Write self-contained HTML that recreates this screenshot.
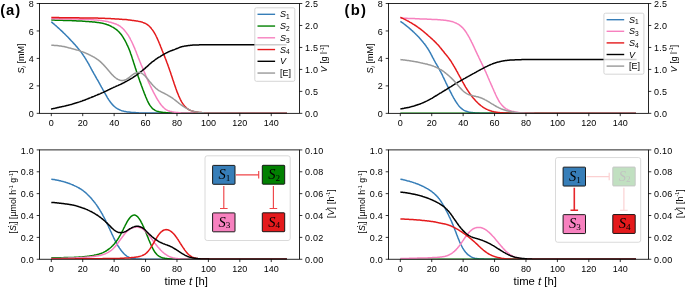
<!DOCTYPE html>
<html><head><meta charset="utf-8"><title>figure</title>
<style>html,body{margin:0;padding:0;background:#fff;}svg{display:block;will-change:transform;opacity:0.999;}</style></head>
<body>
<svg width="685" height="288" viewBox="0 0 685 288" font-family="Liberation Sans, sans-serif" fill="#000">
<rect width="685" height="288" fill="#fff"/>
<clipPath id="ca1"><rect x="39.5" y="3.5" width="260.0" height="109.85"/></clipPath>
<g clip-path="url(#ca1)">
<path d="M51.3,21.8 L52.0,22.4 L52.8,23.1 L53.5,23.7 L54.3,24.3 L55.0,25.0 L55.8,25.6 L56.5,26.3 L57.3,27.0 L58.0,27.7 L58.8,28.3 L59.5,29.0 L60.3,29.7 L61.0,30.4 L61.8,31.1 L62.5,31.8 L63.3,32.6 L64.0,33.3 L64.8,34.0 L65.5,34.8 L66.3,35.5 L67.0,36.3 L67.8,37.0 L68.5,37.8 L69.3,38.6 L70.0,39.4 L70.8,40.2 L71.5,41.0 L72.3,41.8 L73.0,42.6 L73.8,43.4 L74.5,44.2 L75.3,45.1 L76.0,45.9 L76.8,46.8 L77.5,47.7 L78.3,48.6 L79.0,49.5 L79.8,50.4 L80.5,51.4 L81.3,52.4 L82.0,53.4 L82.8,54.5 L83.5,55.6 L84.3,56.7 L85.0,57.9 L85.8,59.1 L86.5,60.3 L87.3,61.6 L88.0,62.9 L88.8,64.2 L89.5,65.6 L90.3,67.0 L91.0,68.4 L91.8,69.8 L92.5,71.2 L93.3,72.5 L94.0,73.9 L94.8,75.2 L95.5,76.5 L96.3,77.8 L97.0,79.1 L97.8,80.4 L98.5,81.7 L99.3,83.1 L100.0,84.4 L100.8,85.8 L101.5,87.1 L102.3,88.5 L103.0,89.9 L103.8,91.2 L104.5,92.6 L105.3,93.9 L106.0,95.2 L106.8,96.5 L107.5,97.8 L108.3,99.0 L109.0,100.1 L109.8,101.2 L110.5,102.3 L111.3,103.2 L112.0,104.1 L112.8,104.9 L113.5,105.7 L114.3,106.4 L115.0,107.0 L115.8,107.6 L116.5,108.1 L117.3,108.6 L118.0,109.0 L118.8,109.4 L119.5,109.8 L120.3,110.1 L121.0,110.4 L121.8,110.7 L122.5,110.9 L123.3,111.1 L124.0,111.3 L124.8,111.5 L125.5,111.6 L126.3,111.7 L127.0,111.9 L127.8,112.0 L128.6,112.1 L129.3,112.1 L130.1,112.2 L130.8,112.3 L131.6,112.4 L132.3,112.4 L133.1,112.5 L133.8,112.5 L134.6,112.6 L135.3,112.6 L136.1,112.7 L136.8,112.7 L137.6,112.8 L138.3,112.8 L139.1,112.9 L139.8,112.9 L140.6,112.9 L141.3,113.0 L142.1,113.0 L142.8,113.0 L143.6,113.1 L144.3,113.1 L286.9,113.3" stroke="#377eb8" stroke-width="1.5" fill="none" stroke-linejoin="round"/>
<path d="M51.3,20.1 L52.0,20.1 L52.8,20.1 L53.5,20.1 L54.3,20.1 L55.0,20.2 L55.8,20.2 L56.5,20.2 L57.3,20.2 L58.0,20.2 L58.8,20.2 L59.5,20.2 L60.3,20.3 L61.0,20.3 L61.8,20.3 L62.5,20.3 L63.3,20.4 L64.0,20.4 L64.8,20.4 L65.5,20.4 L66.3,20.5 L67.0,20.5 L67.8,20.5 L68.5,20.5 L69.3,20.6 L70.0,20.6 L70.8,20.6 L71.5,20.6 L72.3,20.7 L73.0,20.7 L73.8,20.7 L74.5,20.8 L75.3,20.8 L76.0,20.8 L76.8,20.9 L77.5,20.9 L78.3,20.9 L79.0,21.0 L79.8,21.0 L80.5,21.1 L81.3,21.1 L82.0,21.1 L82.8,21.2 L83.5,21.2 L84.3,21.3 L85.0,21.3 L85.8,21.4 L86.5,21.4 L87.3,21.5 L88.0,21.5 L88.8,21.6 L89.5,21.7 L90.3,21.7 L91.0,21.8 L91.8,21.8 L92.5,21.9 L93.3,22.0 L94.0,22.0 L94.8,22.1 L95.5,22.2 L96.3,22.3 L97.0,22.4 L97.8,22.5 L98.5,22.6 L99.3,22.7 L100.0,22.8 L100.8,22.9 L101.5,23.1 L102.3,23.2 L103.0,23.4 L103.8,23.6 L104.5,23.8 L105.3,24.0 L106.0,24.2 L106.8,24.5 L107.5,24.7 L108.3,25.0 L109.0,25.3 L109.8,25.6 L110.5,26.0 L111.3,26.4 L112.0,26.8 L112.8,27.2 L113.5,27.6 L114.3,28.1 L115.0,28.6 L115.8,29.1 L116.5,29.7 L117.3,30.3 L118.0,31.0 L118.8,31.7 L119.5,32.5 L120.3,33.4 L121.0,34.3 L121.8,35.3 L122.5,36.4 L123.3,37.6 L124.0,38.8 L124.8,40.2 L125.5,41.5 L126.3,43.0 L127.0,44.6 L127.8,46.2 L128.6,48.0 L129.3,49.8 L130.1,51.8 L130.8,53.9 L131.6,56.1 L132.3,58.4 L133.1,60.7 L133.8,63.0 L134.6,65.4 L135.3,67.8 L136.1,70.1 L136.8,72.4 L137.6,74.6 L138.3,76.8 L139.1,79.0 L139.8,81.1 L140.6,83.1 L141.3,85.2 L142.1,87.2 L142.8,89.2 L143.6,91.2 L144.3,93.2 L145.1,95.1 L145.8,97.0 L146.6,98.8 L147.3,100.5 L148.1,102.1 L148.8,103.5 L149.6,104.8 L150.3,105.9 L151.1,106.9 L151.8,107.8 L152.6,108.6 L153.3,109.2 L154.1,109.7 L154.8,110.2 L155.6,110.6 L156.3,110.9 L157.1,111.2 L157.8,111.4 L158.6,111.6 L159.3,111.8 L160.1,111.9 L160.8,112.0 L161.6,112.2 L162.3,112.3 L163.1,112.4 L163.8,112.5 L164.6,112.6 L165.3,112.6 L166.1,112.7 L166.8,112.8 L167.6,112.8 L168.3,112.9 L169.1,112.9 L169.8,112.9 L170.6,113.0 L171.3,113.0 L172.1,113.0 L172.8,113.1 L173.6,113.1 L174.3,113.1 L286.9,113.3" stroke="#008000" stroke-width="1.5" fill="none" stroke-linejoin="round"/>
<path d="M51.3,18.8 L52.0,18.8 L52.8,18.8 L53.5,18.8 L54.3,18.8 L55.0,18.8 L55.8,18.8 L56.5,18.8 L57.3,18.8 L58.0,18.8 L58.8,18.8 L59.5,18.8 L60.3,18.9 L61.0,18.9 L61.8,18.9 L62.5,18.9 L63.3,18.9 L64.0,18.9 L64.8,18.9 L65.5,18.9 L66.3,18.9 L67.0,19.0 L67.8,19.0 L68.5,19.0 L69.3,19.0 L70.0,19.0 L70.8,19.0 L71.5,19.0 L72.3,19.0 L73.0,19.1 L73.8,19.1 L74.5,19.1 L75.3,19.1 L76.0,19.1 L76.8,19.1 L77.5,19.1 L78.3,19.2 L79.0,19.2 L79.8,19.2 L80.5,19.2 L81.3,19.3 L82.0,19.3 L82.8,19.3 L83.5,19.3 L84.3,19.4 L85.0,19.4 L85.8,19.4 L86.5,19.4 L87.3,19.5 L88.0,19.5 L88.8,19.5 L89.5,19.6 L90.3,19.6 L91.0,19.7 L91.8,19.7 L92.5,19.7 L93.3,19.8 L94.0,19.9 L94.8,19.9 L95.5,20.0 L96.3,20.0 L97.0,20.1 L97.8,20.2 L98.5,20.2 L99.3,20.3 L100.0,20.4 L100.8,20.5 L101.5,20.6 L102.3,20.7 L103.0,20.8 L103.8,20.9 L104.5,21.1 L105.3,21.2 L106.0,21.3 L106.8,21.5 L107.5,21.6 L108.3,21.8 L109.0,22.0 L109.8,22.2 L110.5,22.3 L111.3,22.5 L112.0,22.8 L112.8,23.0 L113.5,23.2 L114.3,23.5 L115.0,23.7 L115.8,24.0 L116.5,24.3 L117.3,24.7 L118.0,25.0 L118.8,25.5 L119.5,25.9 L120.3,26.4 L121.0,27.0 L121.8,27.6 L122.5,28.3 L123.3,29.0 L124.0,29.8 L124.8,30.7 L125.5,31.6 L126.3,32.6 L127.0,33.6 L127.8,34.7 L128.6,35.9 L129.3,37.2 L130.1,38.5 L130.8,40.0 L131.6,41.5 L132.3,43.0 L133.1,44.7 L133.8,46.4 L134.6,48.1 L135.3,50.0 L136.1,51.8 L136.8,53.7 L137.6,55.7 L138.3,57.6 L139.1,59.5 L139.8,61.3 L140.6,63.2 L141.3,65.0 L142.1,66.8 L142.8,68.5 L143.6,70.3 L144.3,72.1 L145.1,73.9 L145.8,75.6 L146.6,77.4 L147.3,79.2 L148.1,80.9 L148.8,82.6 L149.6,84.2 L150.3,85.8 L151.1,87.4 L151.8,88.9 L152.6,90.4 L153.3,91.9 L154.1,93.3 L154.8,94.7 L155.6,96.1 L156.3,97.5 L157.1,98.8 L157.8,100.0 L158.6,101.2 L159.3,102.4 L160.1,103.5 L160.8,104.5 L161.6,105.4 L162.3,106.3 L163.1,107.1 L163.8,107.8 L164.6,108.5 L165.3,109.1 L166.1,109.6 L166.8,110.0 L167.6,110.4 L168.3,110.7 L169.1,111.0 L169.8,111.3 L170.6,111.5 L171.3,111.6 L172.1,111.8 L172.8,111.9 L173.6,112.1 L174.3,112.2 L175.1,112.3 L175.8,112.4 L176.6,112.5 L177.3,112.6 L178.1,112.6 L178.8,112.7 L179.6,112.8 L180.3,112.8 L181.1,112.9 L181.8,112.9 L182.6,112.9 L183.3,113.0 L184.1,113.0 L184.8,113.0 L185.6,113.1 L186.3,113.1 L187.1,113.1 L187.8,113.1 L286.9,113.3" stroke="#f781bf" stroke-width="1.5" fill="none" stroke-linejoin="round"/>
<path d="M51.3,17.6 L52.0,17.6 L52.8,17.6 L53.5,17.6 L54.3,17.6 L55.0,17.6 L55.8,17.6 L56.5,17.6 L57.3,17.6 L58.0,17.6 L58.8,17.6 L59.5,17.7 L60.3,17.7 L61.0,17.7 L61.8,17.7 L62.5,17.7 L63.3,17.7 L64.0,17.7 L64.8,17.7 L65.5,17.7 L66.3,17.7 L67.0,17.7 L67.8,17.7 L68.5,17.7 L69.3,17.7 L70.0,17.7 L70.8,17.8 L71.5,17.8 L72.3,17.8 L73.0,17.8 L73.8,17.8 L74.5,17.8 L75.3,17.8 L76.0,17.8 L76.8,17.8 L77.5,17.8 L78.3,17.8 L79.0,17.8 L79.8,17.9 L80.5,17.9 L81.3,17.9 L82.0,17.9 L82.8,17.9 L83.5,17.9 L84.3,17.9 L85.0,17.9 L85.8,17.9 L86.5,17.9 L87.3,17.9 L88.0,18.0 L88.8,18.0 L89.5,18.0 L90.3,18.0 L91.0,18.0 L91.8,18.0 L92.5,18.0 L93.3,18.0 L94.0,18.1 L94.8,18.1 L95.5,18.1 L96.3,18.1 L97.0,18.1 L97.8,18.1 L98.5,18.2 L99.3,18.2 L100.0,18.2 L100.8,18.2 L101.5,18.2 L102.3,18.3 L103.0,18.3 L103.8,18.3 L104.5,18.3 L105.3,18.4 L106.0,18.4 L106.8,18.4 L107.5,18.5 L108.3,18.5 L109.0,18.6 L109.8,18.6 L110.5,18.6 L111.3,18.7 L112.0,18.7 L112.8,18.8 L113.5,18.8 L114.3,18.8 L115.0,18.9 L115.8,18.9 L116.5,19.0 L117.3,19.0 L118.0,19.1 L118.8,19.1 L119.5,19.2 L120.3,19.2 L121.0,19.3 L121.8,19.3 L122.5,19.4 L123.3,19.4 L124.0,19.5 L124.8,19.5 L125.5,19.6 L126.3,19.6 L127.0,19.7 L127.8,19.8 L128.6,19.9 L129.3,20.0 L130.1,20.1 L130.8,20.2 L131.6,20.3 L132.3,20.4 L133.1,20.5 L133.8,20.6 L134.6,20.7 L135.3,20.8 L136.1,20.9 L136.8,21.0 L137.6,21.1 L138.3,21.3 L139.1,21.4 L139.8,21.6 L140.6,21.7 L141.3,21.9 L142.1,22.1 L142.8,22.4 L143.6,22.7 L144.3,23.0 L145.1,23.3 L145.8,23.7 L146.6,24.1 L147.3,24.6 L148.1,25.2 L148.8,25.8 L149.6,26.5 L150.3,27.3 L151.1,28.1 L151.8,29.1 L152.6,30.1 L153.3,31.2 L154.1,32.4 L154.8,33.6 L155.6,35.0 L156.3,36.5 L157.1,38.1 L157.8,39.7 L158.6,41.5 L159.3,43.3 L160.1,45.1 L160.8,47.0 L161.6,48.9 L162.3,50.8 L163.1,52.7 L163.8,54.5 L164.6,56.4 L165.3,58.3 L166.1,60.2 L166.8,62.2 L167.6,64.2 L168.3,66.3 L169.1,68.4 L169.8,70.5 L170.6,72.7 L171.3,74.9 L172.1,77.2 L172.8,79.4 L173.6,81.7 L174.3,83.9 L175.1,86.2 L175.8,88.3 L176.6,90.4 L177.3,92.4 L178.1,94.3 L178.8,96.1 L179.6,97.8 L180.3,99.3 L181.1,100.8 L181.8,102.1 L182.6,103.3 L183.3,104.4 L184.1,105.4 L184.8,106.3 L185.6,107.1 L186.3,107.8 L187.1,108.5 L187.8,109.0 L188.6,109.5 L189.3,109.9 L190.1,110.3 L190.8,110.6 L191.6,110.9 L192.3,111.1 L193.1,111.3 L193.8,111.5 L194.6,111.7 L195.3,111.8 L196.1,112.0 L196.8,112.1 L197.6,112.2 L198.3,112.3 L199.1,112.4 L199.8,112.4 L200.6,112.5 L201.3,112.6 L202.1,112.7 L202.8,112.7 L203.6,112.8 L204.3,112.9 L205.1,112.9 L205.8,113.0 L206.6,113.0 L207.3,113.0 L208.1,113.1 L208.8,113.1 L209.6,113.1 L286.9,113.3" stroke="#e41a1c" stroke-width="1.5" fill="none" stroke-linejoin="round"/>
<path d="M51.0,109.0 L51.8,108.9 L52.5,108.7 L53.2,108.6 L54.0,108.4 L54.8,108.3 L55.5,108.1 L56.2,108.0 L57.0,107.8 L57.8,107.6 L58.5,107.5 L59.2,107.3 L60.0,107.1 L60.8,107.0 L61.5,106.8 L62.2,106.6 L63.0,106.5 L63.8,106.3 L64.5,106.1 L65.2,105.9 L66.0,105.7 L66.8,105.5 L67.5,105.4 L68.2,105.2 L69.0,105.0 L69.8,104.8 L70.5,104.6 L71.2,104.4 L72.0,104.2 L72.8,103.9 L73.5,103.7 L74.2,103.5 L75.0,103.3 L75.8,103.1 L76.5,102.8 L77.2,102.6 L78.0,102.4 L78.8,102.1 L79.5,101.9 L80.2,101.6 L81.0,101.4 L81.8,101.1 L82.5,100.8 L83.2,100.5 L84.0,100.3 L84.8,100.0 L85.5,99.7 L86.2,99.4 L87.0,99.1 L87.8,98.8 L88.5,98.5 L89.2,98.2 L90.0,97.9 L90.8,97.6 L91.5,97.3 L92.2,97.0 L93.0,96.7 L93.8,96.4 L94.5,96.1 L95.2,95.8 L96.0,95.4 L96.8,95.1 L97.5,94.8 L98.2,94.5 L99.0,94.2 L99.8,93.9 L100.5,93.6 L101.2,93.2 L102.0,92.9 L102.8,92.6 L103.5,92.2 L104.2,91.9 L105.0,91.5 L105.8,91.2 L106.5,90.8 L107.2,90.5 L108.0,90.1 L108.8,89.7 L109.5,89.4 L110.2,89.0 L111.0,88.6 L111.8,88.3 L112.5,87.9 L113.2,87.6 L114.0,87.2 L114.8,86.9 L115.5,86.6 L116.2,86.2 L117.0,85.9 L117.8,85.6 L118.5,85.3 L119.2,84.9 L120.0,84.6 L120.8,84.3 L121.5,83.9 L122.2,83.5 L123.0,83.1 L123.8,82.8 L124.5,82.4 L125.2,81.9 L126.0,81.5 L126.8,81.1 L127.5,80.7 L128.2,80.3 L129.0,79.9 L129.8,79.4 L130.5,79.0 L131.2,78.5 L132.0,78.1 L132.8,77.6 L133.5,77.1 L134.2,76.6 L135.0,76.1 L135.8,75.6 L136.5,75.0 L137.2,74.5 L138.0,73.9 L138.8,73.3 L139.5,72.8 L140.2,72.2 L141.0,71.6 L141.8,71.0 L142.5,70.4 L143.2,69.8 L144.0,69.2 L144.8,68.6 L145.5,67.9 L146.2,67.2 L147.0,66.6 L147.8,65.9 L148.5,65.2 L149.2,64.5 L150.0,63.8 L150.8,63.2 L151.5,62.5 L152.2,61.9 L153.0,61.4 L153.8,60.8 L154.5,60.3 L155.2,59.7 L156.0,59.2 L156.8,58.7 L157.5,58.2 L158.2,57.7 L159.0,57.2 L159.8,56.8 L160.5,56.3 L161.2,55.8 L162.0,55.4 L162.8,54.9 L163.5,54.5 L164.2,54.1 L165.0,53.6 L165.8,53.2 L166.5,52.8 L167.2,52.5 L168.0,52.1 L168.8,51.7 L169.5,51.4 L170.2,51.1 L171.0,50.8 L171.8,50.5 L172.5,50.2 L173.2,49.9 L174.0,49.7 L174.8,49.4 L175.5,49.1 L176.2,48.8 L177.0,48.5 L177.8,48.2 L178.5,47.9 L179.2,47.6 L180.0,47.3 L180.8,47.1 L181.5,46.8 L182.2,46.6 L183.0,46.5 L183.8,46.3 L184.5,46.1 L185.2,46.0 L186.0,45.9 L186.8,45.8 L187.5,45.7 L188.2,45.6 L189.0,45.5 L189.8,45.4 L190.5,45.3 L191.2,45.2 L192.0,45.2 L192.8,45.1 L193.5,45.1 L194.2,45.0 L195.0,45.0 L195.8,45.0 L196.5,44.9 L197.2,44.9 L198.0,44.9 L198.8,44.9 L199.5,44.8 L200.2,44.8 L201.0,44.8 L201.8,44.8 L202.5,44.8 L203.2,44.8 L204.0,44.8 L204.8,44.7 L205.5,44.7 L206.2,44.7 L207.0,44.7 L207.8,44.7 L208.5,44.7 L209.2,44.7 L210.0,44.7 L210.8,44.7 L211.5,44.7 L212.2,44.7 L213.0,44.7 L213.8,44.7 L214.5,44.7 L215.2,44.7 L216.0,44.7 L216.8,44.7 L217.5,44.7 L218.2,44.7 L219.0,44.7 L219.8,44.7 L220.5,44.7 L221.2,44.7 L222.0,44.7 L222.8,44.7 L223.5,44.7 L224.2,44.7 L225.0,44.7 L225.8,44.7 L226.5,44.7 L227.2,44.7 L228.0,44.7 L228.8,44.7 L229.5,44.7 L230.2,44.7 L231.0,44.7 L231.8,44.7 L232.5,44.7 L233.2,44.7 L234.0,44.7 L234.8,44.7 L235.5,44.7 L236.2,44.7 L237.0,44.7 L237.8,44.7 L238.5,44.7 L239.2,44.7 L240.0,44.7 L240.8,44.7 L241.5,44.7 L242.2,44.7 L243.0,44.7 L243.8,44.7 L244.5,44.7 L245.2,44.7 L246.0,44.7 L246.8,44.7 L247.5,44.7 L248.2,44.7 L249.0,44.7 L249.8,44.7 L250.5,44.7 L251.2,44.7 L252.0,44.7 L252.8,44.7 L253.5,44.7 L254.2,44.7 L255.0,44.7 L255.8,44.7 L256.5,44.7 L257.2,44.7 L258.0,44.7 L258.8,44.7 L259.5,44.7 L260.2,44.7 L261.0,44.7 L261.8,44.7 L262.5,44.7 L263.2,44.7 L264.0,44.7 L264.8,44.7 L265.5,44.7 L266.2,44.7 L267.0,44.7 L267.8,44.7 L268.5,44.7 L269.2,44.7 L270.0,44.7 L270.8,44.7 L271.5,44.7 L272.2,44.7 L273.0,44.7 L273.8,44.7 L274.5,44.7 L275.2,44.7 L276.0,44.7 L276.8,44.7 L277.5,44.7 L278.2,44.7 L279.0,44.7 L279.8,44.7 L280.5,44.7 L281.2,44.7 L282.0,44.7 L282.8,44.7 L283.5,44.7 L284.2,44.7 L285.0,44.7 L285.8,44.7 L286.5,44.7" stroke="#000000" stroke-width="1.5" fill="none" stroke-linejoin="round"/>
<path d="M51.3,45.2 L52.0,45.2 L52.8,45.3 L53.5,45.3 L54.3,45.4 L55.0,45.4 L55.8,45.5 L56.5,45.6 L57.3,45.6 L58.0,45.7 L58.8,45.8 L59.5,45.9 L60.3,46.0 L61.0,46.1 L61.8,46.2 L62.5,46.4 L63.3,46.5 L64.0,46.6 L64.8,46.8 L65.5,47.0 L66.3,47.1 L67.0,47.3 L67.8,47.5 L68.5,47.7 L69.3,47.9 L70.0,48.1 L70.8,48.3 L71.5,48.5 L72.3,48.7 L73.0,48.9 L73.8,49.1 L74.5,49.3 L75.3,49.5 L76.0,49.7 L76.8,49.9 L77.5,50.1 L78.3,50.4 L79.0,50.6 L79.8,50.8 L80.5,51.1 L81.3,51.4 L82.0,51.6 L82.8,51.9 L83.5,52.2 L84.3,52.5 L85.0,52.8 L85.8,53.1 L86.5,53.5 L87.3,53.8 L88.0,54.1 L88.8,54.5 L89.5,54.9 L90.3,55.2 L91.0,55.6 L91.8,56.0 L92.5,56.4 L93.3,56.8 L94.0,57.2 L94.8,57.7 L95.5,58.1 L96.3,58.6 L97.0,59.1 L97.8,59.6 L98.5,60.2 L99.3,60.8 L100.0,61.4 L100.8,62.1 L101.5,62.8 L102.3,63.6 L103.0,64.3 L103.8,65.1 L104.5,65.9 L105.3,66.7 L106.0,67.6 L106.8,68.5 L107.5,69.3 L108.3,70.2 L109.0,71.1 L109.8,72.0 L110.5,72.9 L111.3,73.7 L112.0,74.6 L112.8,75.3 L113.5,76.1 L114.3,76.8 L115.0,77.4 L115.8,78.0 L116.5,78.5 L117.3,79.0 L118.0,79.4 L118.8,79.7 L119.5,80.0 L120.3,80.3 L121.0,80.4 L121.8,80.5 L122.5,80.5 L123.3,80.5 L124.0,80.3 L124.8,80.1 L125.5,79.8 L126.3,79.4 L127.0,79.0 L127.8,78.5 L128.6,78.0 L129.3,77.4 L130.1,76.7 L130.8,76.1 L131.6,75.5 L132.3,74.9 L133.1,74.4 L133.8,73.9 L134.6,73.5 L135.3,73.2 L136.1,72.9 L136.8,72.7 L137.6,72.5 L138.3,72.4 L139.1,72.5 L139.8,72.6 L140.6,72.8 L141.3,73.1 L142.1,73.5 L142.8,74.0 L143.6,74.6 L144.3,75.3 L145.1,76.0 L145.8,76.9 L146.6,77.7 L147.3,78.6 L148.1,79.5 L148.8,80.5 L149.6,81.4 L150.3,82.3 L151.1,83.1 L151.8,84.0 L152.6,84.9 L153.3,85.7 L154.1,86.5 L154.8,87.2 L155.6,88.0 L156.3,88.6 L157.1,89.2 L157.8,89.8 L158.6,90.3 L159.3,90.8 L160.1,91.2 L160.8,91.6 L161.6,92.0 L162.3,92.4 L163.1,92.8 L163.8,93.1 L164.6,93.5 L165.3,93.9 L166.1,94.3 L166.8,94.7 L167.6,95.1 L168.3,95.6 L169.1,96.0 L169.8,96.5 L170.6,96.9 L171.3,97.4 L172.1,97.9 L172.8,98.4 L173.6,99.0 L174.3,99.5 L175.1,100.1 L175.8,100.7 L176.6,101.3 L177.3,101.9 L178.1,102.5 L178.8,103.1 L179.6,103.7 L180.3,104.3 L181.1,104.8 L181.8,105.4 L182.6,105.9 L183.3,106.4 L184.1,106.9 L184.8,107.3 L185.6,107.8 L186.3,108.2 L187.1,108.6 L187.8,109.0 L188.6,109.4 L189.3,109.8 L190.1,110.1 L190.8,110.4 L191.6,110.7 L192.3,110.9 L193.1,111.2 L193.8,111.4 L194.6,111.5 L195.3,111.7 L196.1,111.9 L196.8,112.0 L197.6,112.1 L198.3,112.2 L199.1,112.3 L199.8,112.4 L200.6,112.5 L201.3,112.6 L202.1,112.7 L202.8,112.8 L203.6,112.8 L204.3,112.9 L205.1,112.9 L205.8,112.9 L206.6,113.0 L207.3,113.0 L208.1,113.0 L208.8,113.0 L209.6,113.0 L210.3,113.1 L211.1,113.1 L211.8,113.1 L212.6,113.1 L213.3,113.1 L214.1,113.1 L214.8,113.1 L286.9,113.3" stroke="#999999" stroke-width="1.5" fill="none" stroke-linejoin="round"/>
</g>
<rect x="39.5" y="3.5" width="260.0" height="109.85" fill="none" stroke="#000" stroke-width="0.85"/>
<line x1="51.30" y1="113.35" x2="51.30" y2="116.14999999999999" stroke="#000" stroke-width="0.8"/>
<text x="51.30" y="125.94999999999999" text-anchor="middle" font-size="9.0">0</text>
<line x1="82.72" y1="113.35" x2="82.72" y2="116.14999999999999" stroke="#000" stroke-width="0.8"/>
<text x="82.72" y="125.94999999999999" text-anchor="middle" font-size="9.0">20</text>
<line x1="114.14" y1="113.35" x2="114.14" y2="116.14999999999999" stroke="#000" stroke-width="0.8"/>
<text x="114.14" y="125.94999999999999" text-anchor="middle" font-size="9.0">40</text>
<line x1="145.56" y1="113.35" x2="145.56" y2="116.14999999999999" stroke="#000" stroke-width="0.8"/>
<text x="145.56" y="125.94999999999999" text-anchor="middle" font-size="9.0">60</text>
<line x1="176.98" y1="113.35" x2="176.98" y2="116.14999999999999" stroke="#000" stroke-width="0.8"/>
<text x="176.98" y="125.94999999999999" text-anchor="middle" font-size="9.0">80</text>
<line x1="208.40" y1="113.35" x2="208.40" y2="116.14999999999999" stroke="#000" stroke-width="0.8"/>
<text x="208.40" y="125.94999999999999" text-anchor="middle" font-size="9.0">100</text>
<line x1="239.82" y1="113.35" x2="239.82" y2="116.14999999999999" stroke="#000" stroke-width="0.8"/>
<text x="239.82" y="125.94999999999999" text-anchor="middle" font-size="9.0">120</text>
<line x1="271.24" y1="113.35" x2="271.24" y2="116.14999999999999" stroke="#000" stroke-width="0.8"/>
<text x="271.24" y="125.94999999999999" text-anchor="middle" font-size="9.0">140</text>
<line x1="36.7" y1="113.35" x2="39.5" y2="113.35" stroke="#000" stroke-width="0.8"/>
<text x="33.9" y="116.95" text-anchor="end" font-size="9.0" letter-spacing="0.25">0</text>
<line x1="36.7" y1="85.89" x2="39.5" y2="85.89" stroke="#000" stroke-width="0.8"/>
<text x="33.9" y="89.49" text-anchor="end" font-size="9.0" letter-spacing="0.25">2</text>
<line x1="36.7" y1="58.42" x2="39.5" y2="58.42" stroke="#000" stroke-width="0.8"/>
<text x="33.9" y="62.02" text-anchor="end" font-size="9.0" letter-spacing="0.25">4</text>
<line x1="36.7" y1="30.96" x2="39.5" y2="30.96" stroke="#000" stroke-width="0.8"/>
<text x="33.9" y="34.56" text-anchor="end" font-size="9.0" letter-spacing="0.25">6</text>
<line x1="36.7" y1="3.50" x2="39.5" y2="3.50" stroke="#000" stroke-width="0.8"/>
<text x="33.9" y="7.10" text-anchor="end" font-size="9.0" letter-spacing="0.25">8</text>
<line x1="299.5" y1="113.35" x2="302.3" y2="113.35" stroke="#000" stroke-width="0.8"/>
<text x="304.9" y="117.05" text-anchor="start" font-size="9.0" letter-spacing="0.25">0.0</text>
<line x1="299.5" y1="91.38" x2="302.3" y2="91.38" stroke="#000" stroke-width="0.8"/>
<text x="304.9" y="95.08" text-anchor="start" font-size="9.0" letter-spacing="0.25">0.5</text>
<line x1="299.5" y1="69.41" x2="302.3" y2="69.41" stroke="#000" stroke-width="0.8"/>
<text x="304.9" y="73.11" text-anchor="start" font-size="9.0" letter-spacing="0.25">1.0</text>
<line x1="299.5" y1="47.44" x2="302.3" y2="47.44" stroke="#000" stroke-width="0.8"/>
<text x="304.9" y="51.14" text-anchor="start" font-size="9.0" letter-spacing="0.25">1.5</text>
<line x1="299.5" y1="25.47" x2="302.3" y2="25.47" stroke="#000" stroke-width="0.8"/>
<text x="304.9" y="29.17" text-anchor="start" font-size="9.0" letter-spacing="0.25">2.0</text>
<line x1="299.5" y1="3.50" x2="302.3" y2="3.50" stroke="#000" stroke-width="0.8"/>
<text x="304.9" y="7.20" text-anchor="start" font-size="9.0" letter-spacing="0.25">2.5</text>
<clipPath id="ca2"><rect x="39.5" y="149.9" width="260.0" height="109.35"/></clipPath>
<g clip-path="url(#ca2)">
<path d="M51.3,179.2 L52.0,179.3 L52.8,179.4 L53.5,179.5 L54.3,179.6 L55.0,179.7 L55.8,179.9 L56.5,180.0 L57.3,180.2 L58.0,180.3 L58.8,180.5 L59.5,180.7 L60.3,180.8 L61.0,181.0 L61.8,181.2 L62.5,181.4 L63.3,181.6 L64.0,181.8 L64.8,182.0 L65.5,182.2 L66.3,182.5 L67.0,182.7 L67.8,183.0 L68.5,183.2 L69.3,183.5 L70.0,183.8 L70.8,184.1 L71.5,184.4 L72.3,184.7 L73.0,185.0 L73.8,185.4 L74.5,185.7 L75.3,186.1 L76.0,186.4 L76.8,186.8 L77.5,187.2 L78.3,187.6 L79.0,188.0 L79.8,188.5 L80.5,188.9 L81.3,189.4 L82.0,189.9 L82.8,190.4 L83.5,191.0 L84.3,191.6 L85.0,192.2 L85.8,192.8 L86.5,193.5 L87.3,194.2 L88.0,195.0 L88.8,195.7 L89.5,196.5 L90.3,197.3 L91.0,198.1 L91.8,199.0 L92.5,199.9 L93.3,200.8 L94.0,201.7 L94.8,202.6 L95.5,203.6 L96.3,204.6 L97.0,205.7 L97.8,206.8 L98.5,208.0 L99.3,209.1 L100.0,210.4 L100.8,211.6 L101.5,212.9 L102.3,214.2 L103.0,215.6 L103.8,217.0 L104.5,218.4 L105.3,219.8 L106.0,221.3 L106.8,222.8 L107.5,224.4 L108.3,226.0 L109.0,227.6 L109.8,229.2 L110.5,230.9 L111.3,232.5 L112.0,234.1 L112.8,235.8 L113.5,237.3 L114.3,238.9 L115.0,240.3 L115.8,241.8 L116.5,243.2 L117.3,244.5 L118.0,245.8 L118.8,247.0 L119.5,248.1 L120.3,249.2 L121.0,250.3 L121.8,251.2 L122.5,252.1 L123.3,253.0 L124.0,253.8 L124.8,254.5 L125.5,255.1 L126.3,255.7 L127.0,256.3 L127.8,256.7 L128.6,257.1 L129.3,257.5 L130.1,257.8 L130.8,258.0 L131.6,258.3 L132.3,258.4 L133.1,258.6 L133.8,258.7 L134.6,258.8 L135.3,258.8 L136.1,258.9 L136.8,258.9 L137.6,259.0 L138.3,259.0 L139.1,259.1 L139.8,259.1 L140.6,259.1 L141.3,259.1 L142.1,259.2 L142.8,259.2 L143.6,259.2 L144.3,259.2 L286.9,259.2" stroke="#377eb8" stroke-width="1.5" fill="none" stroke-linejoin="round"/>
<path d="M51.3,257.8 L52.0,257.8 L52.8,257.8 L53.5,257.8 L54.3,257.8 L55.0,257.8 L55.8,257.8 L56.5,257.8 L57.3,257.8 L58.0,257.8 L58.8,257.7 L59.5,257.7 L60.3,257.7 L61.0,257.7 L61.8,257.7 L62.5,257.7 L63.3,257.7 L64.0,257.6 L64.8,257.6 L65.5,257.6 L66.3,257.6 L67.0,257.6 L67.8,257.5 L68.5,257.5 L69.3,257.5 L70.0,257.5 L70.8,257.5 L71.5,257.4 L72.3,257.4 L73.0,257.4 L73.8,257.4 L74.5,257.3 L75.3,257.3 L76.0,257.3 L76.8,257.2 L77.5,257.2 L78.3,257.2 L79.0,257.1 L79.8,257.1 L80.5,257.0 L81.3,257.0 L82.0,256.9 L82.8,256.8 L83.5,256.8 L84.3,256.7 L85.0,256.6 L85.8,256.5 L86.5,256.4 L87.3,256.3 L88.0,256.2 L88.8,256.2 L89.5,256.0 L90.3,255.9 L91.0,255.8 L91.8,255.7 L92.5,255.6 L93.3,255.4 L94.0,255.3 L94.8,255.1 L95.5,255.0 L96.3,254.8 L97.0,254.6 L97.8,254.4 L98.5,254.2 L99.3,254.0 L100.0,253.7 L100.8,253.5 L101.5,253.2 L102.3,252.9 L103.0,252.6 L103.8,252.2 L104.5,251.8 L105.3,251.4 L106.0,251.0 L106.8,250.5 L107.5,250.0 L108.3,249.5 L109.0,248.9 L109.8,248.3 L110.5,247.7 L111.3,247.0 L112.0,246.3 L112.8,245.6 L113.5,244.8 L114.3,243.9 L115.0,243.0 L115.8,242.1 L116.5,241.0 L117.3,240.0 L118.0,238.9 L118.8,237.7 L119.5,236.4 L120.3,235.1 L121.0,233.7 L121.8,232.3 L122.5,230.8 L123.3,229.3 L124.0,227.8 L124.8,226.3 L125.5,224.8 L126.3,223.4 L127.0,222.0 L127.8,220.7 L128.6,219.5 L129.3,218.5 L130.1,217.5 L130.8,216.7 L131.6,216.1 L132.3,215.6 L133.1,215.3 L133.8,215.1 L134.6,215.1 L135.3,215.2 L136.1,215.6 L136.8,216.1 L137.6,216.8 L138.3,217.6 L139.1,218.6 L139.8,219.7 L140.6,220.9 L141.3,222.3 L142.1,223.8 L142.8,225.3 L143.6,226.9 L144.3,228.7 L145.1,230.4 L145.8,232.2 L146.6,234.1 L147.3,235.9 L148.1,237.8 L148.8,239.7 L149.6,241.5 L150.3,243.3 L151.1,245.0 L151.8,246.6 L152.6,248.1 L153.3,249.5 L154.1,250.8 L154.8,252.0 L155.6,253.0 L156.3,253.9 L157.1,254.7 L157.8,255.3 L158.6,255.9 L159.3,256.4 L160.1,256.8 L160.8,257.1 L161.6,257.4 L162.3,257.7 L163.1,257.9 L163.8,258.1 L164.6,258.2 L165.3,258.4 L166.1,258.5 L166.8,258.6 L167.6,258.7 L168.3,258.8 L169.1,258.8 L169.8,258.9 L170.6,258.9 L171.3,259.0 L172.1,259.0 L172.8,259.0 L173.6,259.1 L174.3,259.1 L175.1,259.1 L175.8,259.1 L176.6,259.2 L177.3,259.2 L178.1,259.2 L178.8,259.2 L179.6,259.2 L286.9,259.2" stroke="#008000" stroke-width="1.5" fill="none" stroke-linejoin="round"/>
<path d="M51.3,258.5 L52.0,258.5 L52.8,258.5 L53.5,258.5 L54.3,258.5 L55.0,258.5 L55.8,258.5 L56.5,258.5 L57.3,258.4 L58.0,258.4 L58.8,258.4 L59.5,258.4 L60.3,258.4 L61.0,258.4 L61.8,258.3 L62.5,258.3 L63.3,258.3 L64.0,258.3 L64.8,258.3 L65.5,258.2 L66.3,258.2 L67.0,258.2 L67.8,258.2 L68.5,258.1 L69.3,258.1 L70.0,258.1 L70.8,258.1 L71.5,258.0 L72.3,258.0 L73.0,258.0 L73.8,257.9 L74.5,257.9 L75.3,257.9 L76.0,257.9 L76.8,257.8 L77.5,257.8 L78.3,257.7 L79.0,257.7 L79.8,257.7 L80.5,257.6 L81.3,257.6 L82.0,257.5 L82.8,257.5 L83.5,257.4 L84.3,257.4 L85.0,257.3 L85.8,257.2 L86.5,257.2 L87.3,257.1 L88.0,257.1 L88.8,257.0 L89.5,256.9 L90.3,256.8 L91.0,256.8 L91.8,256.7 L92.5,256.6 L93.3,256.5 L94.0,256.4 L94.8,256.3 L95.5,256.2 L96.3,256.1 L97.0,255.9 L97.8,255.8 L98.5,255.7 L99.3,255.5 L100.0,255.4 L100.8,255.2 L101.5,255.0 L102.3,254.8 L103.0,254.6 L103.8,254.3 L104.5,254.1 L105.3,253.8 L106.0,253.4 L106.8,253.1 L107.5,252.7 L108.3,252.3 L109.0,251.8 L109.8,251.4 L110.5,250.8 L111.3,250.3 L112.0,249.7 L112.8,249.0 L113.5,248.3 L114.3,247.5 L115.0,246.7 L115.8,245.8 L116.5,244.8 L117.3,243.9 L118.0,242.9 L118.8,241.8 L119.5,240.8 L120.3,239.8 L121.0,238.7 L121.8,237.7 L122.5,236.7 L123.3,235.7 L124.0,234.7 L124.8,233.8 L125.5,232.9 L126.3,232.1 L127.0,231.4 L127.8,230.7 L128.6,230.1 L129.3,229.5 L130.1,229.0 L130.8,228.6 L131.6,228.2 L132.3,227.9 L133.1,227.7 L133.8,227.5 L134.6,227.3 L135.3,227.2 L136.1,227.1 L136.8,227.1 L137.6,227.1 L138.3,227.2 L139.1,227.4 L139.8,227.6 L140.6,227.9 L141.3,228.2 L142.1,228.6 L142.8,229.0 L143.6,229.6 L144.3,230.2 L145.1,230.9 L145.8,231.6 L146.6,232.4 L147.3,233.3 L148.1,234.2 L148.8,235.1 L149.6,236.1 L150.3,237.1 L151.1,238.1 L151.8,239.1 L152.6,240.1 L153.3,241.2 L154.1,242.2 L154.8,243.2 L155.6,244.1 L156.3,245.1 L157.1,246.0 L157.8,246.9 L158.6,247.8 L159.3,248.6 L160.1,249.4 L160.8,250.2 L161.6,251.0 L162.3,251.7 L163.1,252.4 L163.8,253.0 L164.6,253.6 L165.3,254.2 L166.1,254.7 L166.8,255.1 L167.6,255.6 L168.3,256.0 L169.1,256.4 L169.8,256.7 L170.6,257.0 L171.3,257.3 L172.1,257.5 L172.8,257.7 L173.6,257.9 L174.3,258.1 L175.1,258.2 L175.8,258.4 L176.6,258.5 L177.3,258.6 L178.1,258.7 L178.8,258.7 L179.6,258.8 L180.3,258.9 L181.1,258.9 L181.8,258.9 L182.6,259.0 L183.3,259.0 L184.1,259.0 L184.8,259.1 L185.6,259.1 L186.3,259.1 L187.1,259.1 L187.8,259.1 L188.6,259.2 L189.3,259.2 L190.1,259.2 L190.8,259.2 L191.6,259.2 L286.9,259.2" stroke="#f781bf" stroke-width="1.5" fill="none" stroke-linejoin="round"/>
<path d="M51.3,258.9 L52.0,258.9 L52.8,258.9 L53.5,258.9 L54.3,258.9 L55.0,258.9 L55.8,258.9 L56.5,258.9 L57.3,258.9 L58.0,258.9 L58.8,258.9 L59.5,258.9 L60.3,258.9 L61.0,258.9 L61.8,258.9 L62.5,258.9 L63.3,258.9 L64.0,258.9 L64.8,258.9 L65.5,258.9 L66.3,258.9 L67.0,258.9 L67.8,258.9 L68.5,258.9 L69.3,258.9 L70.0,258.9 L70.8,258.9 L71.5,258.9 L72.3,258.9 L73.0,258.9 L73.8,258.9 L74.5,258.9 L75.3,258.8 L76.0,258.8 L76.8,258.8 L77.5,258.8 L78.3,258.8 L79.0,258.8 L79.8,258.8 L80.5,258.8 L81.3,258.8 L82.0,258.8 L82.8,258.8 L83.5,258.8 L84.3,258.8 L85.0,258.8 L85.8,258.8 L86.5,258.8 L87.3,258.8 L88.0,258.8 L88.8,258.8 L89.5,258.8 L90.3,258.8 L91.0,258.8 L91.8,258.7 L92.5,258.7 L93.3,258.7 L94.0,258.7 L94.8,258.7 L95.5,258.7 L96.3,258.7 L97.0,258.7 L97.8,258.7 L98.5,258.7 L99.3,258.7 L100.0,258.7 L100.8,258.7 L101.5,258.7 L102.3,258.7 L103.0,258.6 L103.8,258.6 L104.5,258.6 L105.3,258.6 L106.0,258.6 L106.8,258.6 L107.5,258.6 L108.3,258.6 L109.0,258.6 L109.8,258.6 L110.5,258.6 L111.3,258.6 L112.0,258.5 L112.8,258.5 L113.5,258.5 L114.3,258.5 L115.0,258.5 L115.8,258.5 L116.5,258.5 L117.3,258.5 L118.0,258.4 L118.8,258.4 L119.5,258.4 L120.3,258.3 L121.0,258.3 L121.8,258.3 L122.5,258.2 L123.3,258.2 L124.0,258.2 L124.8,258.1 L125.5,258.1 L126.3,258.0 L127.0,258.0 L127.8,257.9 L128.6,257.9 L129.3,257.8 L130.1,257.8 L130.8,257.7 L131.6,257.6 L132.3,257.6 L133.1,257.5 L133.8,257.4 L134.6,257.3 L135.3,257.2 L136.1,257.1 L136.8,257.0 L137.6,256.9 L138.3,256.7 L139.1,256.5 L139.8,256.4 L140.6,256.1 L141.3,255.9 L142.1,255.6 L142.8,255.3 L143.6,255.0 L144.3,254.5 L145.1,254.1 L145.8,253.5 L146.6,252.9 L147.3,252.1 L148.1,251.3 L148.8,250.4 L149.6,249.4 L150.3,248.4 L151.1,247.2 L151.8,246.0 L152.6,244.7 L153.3,243.5 L154.1,242.1 L154.8,240.8 L155.6,239.5 L156.3,238.3 L157.1,237.1 L157.8,236.0 L158.6,234.9 L159.3,233.9 L160.1,233.0 L160.8,232.2 L161.6,231.6 L162.3,231.0 L163.1,230.5 L163.8,230.1 L164.6,229.9 L165.3,229.7 L166.1,229.6 L166.8,229.7 L167.6,229.8 L168.3,230.0 L169.1,230.3 L169.8,230.7 L170.6,231.1 L171.3,231.7 L172.1,232.3 L172.8,233.0 L173.6,233.8 L174.3,234.6 L175.1,235.5 L175.8,236.5 L176.6,237.5 L177.3,238.6 L178.1,239.7 L178.8,240.9 L179.6,242.1 L180.3,243.3 L181.1,244.5 L181.8,245.6 L182.6,246.8 L183.3,247.9 L184.1,249.0 L184.8,250.1 L185.6,251.1 L186.3,252.0 L187.1,252.9 L187.8,253.7 L188.6,254.5 L189.3,255.1 L190.1,255.7 L190.8,256.2 L191.6,256.7 L192.3,257.1 L193.1,257.4 L193.8,257.7 L194.6,257.9 L195.3,258.1 L196.1,258.3 L196.8,258.5 L197.6,258.6 L198.3,258.7 L199.1,258.8 L199.8,258.8 L200.6,258.9 L201.3,258.9 L202.1,259.0 L202.8,259.0 L203.6,259.0 L204.3,259.0 L205.1,259.1 L205.8,259.1 L206.6,259.1 L207.3,259.1 L208.1,259.1 L208.8,259.1 L209.6,259.2 L210.3,259.2 L211.1,259.2 L211.8,259.2 L212.6,259.2 L213.3,259.2 L214.1,259.2 L214.8,259.2 L286.9,259.2" stroke="#e41a1c" stroke-width="1.5" fill="none" stroke-linejoin="round"/>
<path d="M51.3,202.4 L52.0,202.5 L52.8,202.5 L53.5,202.6 L54.3,202.6 L55.0,202.7 L55.8,202.8 L56.5,202.8 L57.3,202.9 L58.0,203.0 L58.8,203.1 L59.5,203.2 L60.3,203.2 L61.0,203.3 L61.8,203.4 L62.5,203.5 L63.3,203.6 L64.0,203.7 L64.8,203.8 L65.5,203.9 L66.3,204.0 L67.0,204.1 L67.8,204.2 L68.5,204.3 L69.3,204.4 L70.0,204.5 L70.8,204.7 L71.5,204.8 L72.3,204.9 L73.0,205.1 L73.8,205.2 L74.5,205.4 L75.3,205.6 L76.0,205.8 L76.8,206.0 L77.5,206.2 L78.3,206.4 L79.0,206.7 L79.8,206.9 L80.5,207.2 L81.3,207.4 L82.0,207.7 L82.8,208.0 L83.5,208.2 L84.3,208.5 L85.0,208.8 L85.8,209.1 L86.5,209.4 L87.3,209.7 L88.0,210.1 L88.8,210.4 L89.5,210.8 L90.3,211.2 L91.0,211.5 L91.8,211.9 L92.5,212.4 L93.3,212.8 L94.0,213.2 L94.8,213.7 L95.5,214.1 L96.3,214.6 L97.0,215.0 L97.8,215.5 L98.5,216.0 L99.3,216.6 L100.0,217.1 L100.8,217.7 L101.5,218.3 L102.3,218.9 L103.0,219.5 L103.8,220.2 L104.5,220.8 L105.3,221.5 L106.0,222.2 L106.8,222.9 L107.5,223.6 L108.3,224.3 L109.0,225.1 L109.8,225.8 L110.5,226.6 L111.3,227.4 L112.0,228.1 L112.8,228.8 L113.5,229.5 L114.3,230.1 L115.0,230.6 L115.8,231.1 L116.5,231.5 L117.3,231.9 L118.0,232.2 L118.8,232.4 L119.5,232.5 L120.3,232.6 L121.0,232.7 L121.8,232.6 L122.5,232.5 L123.3,232.4 L124.0,232.1 L124.8,231.8 L125.5,231.5 L126.3,231.1 L127.0,230.6 L127.8,230.2 L128.6,229.7 L129.3,229.2 L130.1,228.7 L130.8,228.3 L131.6,227.8 L132.3,227.5 L133.1,227.1 L133.8,226.9 L134.6,226.6 L135.3,226.5 L136.1,226.3 L136.8,226.3 L137.6,226.3 L138.3,226.3 L139.1,226.5 L139.8,226.7 L140.6,227.0 L141.3,227.3 L142.1,227.7 L142.8,228.2 L143.6,228.7 L144.3,229.3 L145.1,230.0 L145.8,230.7 L146.6,231.4 L147.3,232.2 L148.1,233.0 L148.8,233.7 L149.6,234.4 L150.3,235.1 L151.1,235.8 L151.8,236.5 L152.6,237.1 L153.3,237.7 L154.1,238.3 L154.8,238.9 L155.6,239.4 L156.3,239.9 L157.1,240.4 L157.8,240.9 L158.6,241.3 L159.3,241.8 L160.1,242.2 L160.8,242.5 L161.6,242.9 L162.3,243.2 L163.1,243.6 L163.8,243.9 L164.6,244.1 L165.3,244.4 L166.1,244.7 L166.8,244.9 L167.6,245.2 L168.3,245.5 L169.1,245.8 L169.8,246.1 L170.6,246.5 L171.3,246.8 L172.1,247.2 L172.8,247.6 L173.6,248.1 L174.3,248.5 L175.1,249.0 L175.8,249.4 L176.6,249.9 L177.3,250.4 L178.1,250.9 L178.8,251.4 L179.6,251.9 L180.3,252.4 L181.1,252.9 L181.8,253.3 L182.6,253.8 L183.3,254.2 L184.1,254.7 L184.8,255.1 L185.6,255.5 L186.3,255.8 L187.1,256.2 L187.8,256.5 L188.6,256.8 L189.3,257.0 L190.1,257.2 L190.8,257.4 L191.6,257.6 L192.3,257.8 L193.1,258.0 L193.8,258.1 L194.6,258.2 L195.3,258.3 L196.1,258.5 L196.8,258.6 L197.6,258.6 L198.3,258.7 L199.1,258.8 L199.8,258.8 L200.6,258.9 L201.3,258.9 L202.1,259.0 L202.8,259.0 L203.6,259.0 L204.3,259.0 L205.1,259.1 L205.8,259.1 L206.6,259.1 L207.3,259.1 L208.1,259.1 L208.8,259.1 L209.6,259.2 L210.3,259.2 L211.1,259.2 L211.8,259.2 L212.6,259.2 L213.3,259.2 L214.1,259.2 L214.8,259.2 L286.9,259.2" stroke="#000000" stroke-width="1.5" fill="none" stroke-linejoin="round"/>
</g>
<rect x="39.5" y="149.9" width="260.0" height="109.35" fill="none" stroke="#000" stroke-width="0.85"/>
<line x1="51.30" y1="259.25" x2="51.30" y2="262.05" stroke="#000" stroke-width="0.8"/>
<text x="51.30" y="271.85" text-anchor="middle" font-size="9.0">0</text>
<line x1="82.72" y1="259.25" x2="82.72" y2="262.05" stroke="#000" stroke-width="0.8"/>
<text x="82.72" y="271.85" text-anchor="middle" font-size="9.0">20</text>
<line x1="114.14" y1="259.25" x2="114.14" y2="262.05" stroke="#000" stroke-width="0.8"/>
<text x="114.14" y="271.85" text-anchor="middle" font-size="9.0">40</text>
<line x1="145.56" y1="259.25" x2="145.56" y2="262.05" stroke="#000" stroke-width="0.8"/>
<text x="145.56" y="271.85" text-anchor="middle" font-size="9.0">60</text>
<line x1="176.98" y1="259.25" x2="176.98" y2="262.05" stroke="#000" stroke-width="0.8"/>
<text x="176.98" y="271.85" text-anchor="middle" font-size="9.0">80</text>
<line x1="208.40" y1="259.25" x2="208.40" y2="262.05" stroke="#000" stroke-width="0.8"/>
<text x="208.40" y="271.85" text-anchor="middle" font-size="9.0">100</text>
<line x1="239.82" y1="259.25" x2="239.82" y2="262.05" stroke="#000" stroke-width="0.8"/>
<text x="239.82" y="271.85" text-anchor="middle" font-size="9.0">120</text>
<line x1="271.24" y1="259.25" x2="271.24" y2="262.05" stroke="#000" stroke-width="0.8"/>
<text x="271.24" y="271.85" text-anchor="middle" font-size="9.0">140</text>
<line x1="36.7" y1="259.25" x2="39.5" y2="259.25" stroke="#000" stroke-width="0.8"/>
<text x="33.9" y="262.85" text-anchor="end" font-size="9.0" letter-spacing="0.25">0.0</text>
<line x1="36.7" y1="237.38" x2="39.5" y2="237.38" stroke="#000" stroke-width="0.8"/>
<text x="33.9" y="240.98" text-anchor="end" font-size="9.0" letter-spacing="0.25">0.2</text>
<line x1="36.7" y1="215.51" x2="39.5" y2="215.51" stroke="#000" stroke-width="0.8"/>
<text x="33.9" y="219.11" text-anchor="end" font-size="9.0" letter-spacing="0.25">0.4</text>
<line x1="36.7" y1="193.64" x2="39.5" y2="193.64" stroke="#000" stroke-width="0.8"/>
<text x="33.9" y="197.24" text-anchor="end" font-size="9.0" letter-spacing="0.25">0.6</text>
<line x1="36.7" y1="171.77" x2="39.5" y2="171.77" stroke="#000" stroke-width="0.8"/>
<text x="33.9" y="175.37" text-anchor="end" font-size="9.0" letter-spacing="0.25">0.8</text>
<line x1="36.7" y1="149.90" x2="39.5" y2="149.90" stroke="#000" stroke-width="0.8"/>
<text x="33.9" y="153.50" text-anchor="end" font-size="9.0" letter-spacing="0.25">1.0</text>
<line x1="299.5" y1="259.25" x2="302.3" y2="259.25" stroke="#000" stroke-width="0.8"/>
<text x="304.9" y="262.95" text-anchor="start" font-size="9.0" letter-spacing="0.25">0.00</text>
<line x1="299.5" y1="237.38" x2="302.3" y2="237.38" stroke="#000" stroke-width="0.8"/>
<text x="304.9" y="241.08" text-anchor="start" font-size="9.0" letter-spacing="0.25">0.02</text>
<line x1="299.5" y1="215.51" x2="302.3" y2="215.51" stroke="#000" stroke-width="0.8"/>
<text x="304.9" y="219.21" text-anchor="start" font-size="9.0" letter-spacing="0.25">0.04</text>
<line x1="299.5" y1="193.64" x2="302.3" y2="193.64" stroke="#000" stroke-width="0.8"/>
<text x="304.9" y="197.34" text-anchor="start" font-size="9.0" letter-spacing="0.25">0.06</text>
<line x1="299.5" y1="171.77" x2="302.3" y2="171.77" stroke="#000" stroke-width="0.8"/>
<text x="304.9" y="175.47" text-anchor="start" font-size="9.0" letter-spacing="0.25">0.08</text>
<line x1="299.5" y1="149.90" x2="302.3" y2="149.90" stroke="#000" stroke-width="0.8"/>
<text x="304.9" y="153.60" text-anchor="start" font-size="9.0" letter-spacing="0.25">0.10</text>
<rect x="254.8" y="7.8" width="40" height="73.5" rx="1.6" fill="#fff" fill-opacity="0.8" stroke="#ccc" stroke-width="0.8"/>
<line x1="257.5" y1="14.30" x2="275.1" y2="14.30" stroke="#377eb8" stroke-width="1.4"/>
<text x="280.0" y="17.30" font-size="9.0"><tspan font-style="italic">S</tspan><tspan font-size="6.6" dy="1.7">1</tspan></text>
<line x1="257.5" y1="26.05" x2="275.1" y2="26.05" stroke="#008000" stroke-width="1.4"/>
<text x="280.0" y="29.05" font-size="9.0"><tspan font-style="italic">S</tspan><tspan font-size="6.6" dy="1.7">2</tspan></text>
<line x1="257.5" y1="37.80" x2="275.1" y2="37.80" stroke="#f781bf" stroke-width="1.4"/>
<text x="280.0" y="40.80" font-size="9.0"><tspan font-style="italic">S</tspan><tspan font-size="6.6" dy="1.7">3</tspan></text>
<line x1="257.5" y1="49.55" x2="275.1" y2="49.55" stroke="#e41a1c" stroke-width="1.4"/>
<text x="280.0" y="52.55" font-size="9.0"><tspan font-style="italic">S</tspan><tspan font-size="6.6" dy="1.7">4</tspan></text>
<line x1="257.5" y1="61.30" x2="275.1" y2="61.30" stroke="#000000" stroke-width="1.4"/>
<text x="280.0" y="64.30" font-size="9.0"><tspan font-style="italic">V</tspan></text>
<line x1="257.5" y1="73.05" x2="275.1" y2="73.05" stroke="#999999" stroke-width="1.4"/>
<text x="280.0" y="76.05" font-size="9.0">[E]</text>
<rect x="205" y="155.8" width="85.2" height="84.7" rx="2.2" fill="#fff" fill-opacity="0.8" stroke="#d0d0d0" stroke-width="0.8"/>
<g><rect x="212.6" y="165.4" width="22.4" height="18.9" rx="0.7" fill="#377eb8" stroke="#111" stroke-width="0.95"/><text x="224.5" y="179.20000000000002" text-anchor="middle" font-family="Liberation Serif, serif" font-size="14.5" font-style="italic">S<tspan font-size="9.2" dy="1.6" font-style="normal">1</tspan></text></g>
<g><rect x="262.3" y="165.3" width="22.4" height="18.9" rx="0.7" fill="#008000" stroke="#111" stroke-width="0.95"/><text x="274.2" y="179.10000000000002" text-anchor="middle" font-family="Liberation Serif, serif" font-size="14.5" font-style="italic">S<tspan font-size="9.2" dy="1.6" font-style="normal">2</tspan></text></g>
<g><rect x="212.6" y="212.9" width="22.4" height="18.9" rx="0.7" fill="#f781bf" stroke="#111" stroke-width="0.95"/><text x="224.5" y="226.70000000000002" text-anchor="middle" font-family="Liberation Serif, serif" font-size="14.5" font-style="italic">S<tspan font-size="9.2" dy="1.6" font-style="normal">3</tspan></text></g>
<g><rect x="262.3" y="212.8" width="22.4" height="18.9" rx="0.7" fill="#e41a1c" stroke="#111" stroke-width="0.95"/><text x="274.2" y="226.60000000000002" text-anchor="middle" font-family="Liberation Serif, serif" font-size="14.5" font-style="italic">S<tspan font-size="9.2" dy="1.6" font-style="normal">4</tspan></text></g>
<path d="M236,174.8 H258.7 M258.7,171 V178.6" stroke="#ef4548" stroke-width="1.15" fill="none"/>
<path d="M223.8,186 V208.5 M220,208.5 H227.6" stroke="#ef4548" stroke-width="1.15" fill="none"/>
<path d="M273.4,186 V208.5 M269.6,208.5 H277.2" stroke="#ef4548" stroke-width="1.15" fill="none"/>
<text x="0.2" y="15.2" font-size="14.8" font-weight="bold" letter-spacing="0.95">(a)</text>
<text transform="translate(24.2,58.5) rotate(-90)" text-anchor="middle" font-size="9.0"><tspan font-style="italic">S</tspan><tspan font-size="6" dy="1.6" font-style="italic">i</tspan><tspan dy="-1.6"> [mM]</tspan></text>
<text transform="translate(16.4,202) rotate(-90)" text-anchor="middle" font-size="8.8">[<tspan font-style="italic">S</tspan><tspan font-size="5.8" dy="1.6" font-style="italic">i</tspan><tspan dy="-1.6">] [µmol h</tspan><tspan font-size="5.4" dy="-3.2">-1</tspan><tspan dy="3.2"> g</tspan><tspan font-size="5.4" dy="-3.2">-1</tspan><tspan dy="3.2">]</tspan></text>
<circle cx="8.6" cy="226.5" r="0.55"/>
<text transform="translate(327,58.6) rotate(-90)" text-anchor="middle" font-size="8.6"><tspan font-style="italic">V</tspan><tspan dx="3">[g</tspan><tspan dx="2.4">l</tspan><tspan font-size="5.4" dy="-3.2">-1</tspan><tspan dy="3.2">]</tspan></text>
<text transform="translate(333.5,203.6) rotate(-90)" text-anchor="middle" font-size="8.8">[<tspan font-style="italic">V</tspan>]<tspan dx="3.2">[h</tspan><tspan font-size="5.4" dy="-3.2">-1</tspan><tspan dy="3.2">]</tspan></text>
<circle cx="326.2" cy="209.6" r="0.6"/>
<text x="186.2" y="284.8" text-anchor="middle" font-size="11.3">time <tspan font-style="italic">t</tspan> [h]</text>
<clipPath id="cb1"><rect x="388.5" y="3.5" width="260.0" height="109.85"/></clipPath>
<g clip-path="url(#cb1)">
<path d="M400.4,21.3 L401.1,21.8 L401.9,22.4 L402.6,22.9 L403.4,23.4 L404.1,24.0 L404.9,24.6 L405.6,25.2 L406.4,25.8 L407.1,26.4 L407.9,27.0 L408.6,27.6 L409.4,28.2 L410.1,28.9 L410.9,29.6 L411.6,30.2 L412.4,30.9 L413.1,31.6 L413.9,32.3 L414.6,33.0 L415.4,33.7 L416.1,34.5 L416.9,35.3 L417.6,36.0 L418.4,36.8 L419.1,37.6 L419.9,38.5 L420.6,39.3 L421.4,40.2 L422.1,41.1 L422.9,42.0 L423.6,42.9 L424.4,43.8 L425.1,44.8 L425.9,45.8 L426.6,46.9 L427.4,48.0 L428.1,49.1 L428.9,50.4 L429.6,51.7 L430.4,53.0 L431.1,54.4 L431.9,55.9 L432.6,57.3 L433.4,58.7 L434.1,60.1 L434.9,61.5 L435.6,62.8 L436.4,64.1 L437.1,65.4 L437.9,66.7 L438.6,68.0 L439.4,69.4 L440.1,70.8 L440.9,72.2 L441.6,73.7 L442.4,75.2 L443.1,76.8 L443.9,78.4 L444.6,79.9 L445.4,81.5 L446.1,83.1 L446.9,84.7 L447.6,86.2 L448.4,87.8 L449.1,89.3 L449.9,90.7 L450.6,92.2 L451.4,93.7 L452.1,95.1 L452.9,96.5 L453.6,97.8 L454.4,99.2 L455.1,100.5 L455.9,101.7 L456.6,102.8 L457.4,103.9 L458.1,104.9 L458.9,105.9 L459.6,106.7 L460.4,107.5 L461.1,108.2 L461.9,108.8 L462.6,109.4 L463.4,109.9 L464.1,110.3 L464.9,110.7 L465.6,111.0 L466.4,111.3 L467.1,111.6 L467.9,111.8 L468.6,112.0 L469.4,112.2 L470.1,112.3 L470.9,112.4 L471.6,112.5 L472.4,112.6 L473.1,112.7 L473.9,112.8 L474.6,112.8 L475.4,112.9 L476.1,112.9 L476.9,113.0 L477.6,113.0 L478.4,113.1 L479.1,113.1 L479.9,113.2 L480.6,113.2 L481.4,113.2 L482.1,113.3 L482.9,113.3 L483.6,113.3 L484.4,113.3 L636.0,113.3" stroke="#377eb8" stroke-width="1.5" fill="none" stroke-linejoin="round"/>
<path d="M400.4,113.35 L635.95,113.35" stroke="#008000" stroke-width="1.5" fill="none"/>
<path d="M400.4,18.1 L401.1,18.1 L401.9,18.2 L402.6,18.2 L403.4,18.2 L404.1,18.2 L404.9,18.3 L405.6,18.3 L406.4,18.3 L407.1,18.3 L407.9,18.4 L408.6,18.4 L409.4,18.4 L410.1,18.5 L410.9,18.5 L411.6,18.5 L412.4,18.5 L413.1,18.6 L413.9,18.6 L414.6,18.6 L415.4,18.7 L416.1,18.7 L416.9,18.7 L417.6,18.8 L418.4,18.8 L419.1,18.8 L419.9,18.9 L420.6,18.9 L421.4,18.9 L422.1,19.0 L422.9,19.0 L423.6,19.0 L424.4,19.0 L425.1,19.1 L425.9,19.1 L426.6,19.1 L427.4,19.2 L428.1,19.2 L428.9,19.2 L429.6,19.3 L430.4,19.3 L431.1,19.3 L431.9,19.4 L432.6,19.4 L433.4,19.4 L434.1,19.5 L434.9,19.5 L435.6,19.5 L436.4,19.6 L437.1,19.6 L437.9,19.7 L438.6,19.7 L439.4,19.8 L440.1,19.8 L440.9,19.9 L441.6,19.9 L442.4,20.0 L443.1,20.1 L443.9,20.2 L444.6,20.2 L445.4,20.3 L446.1,20.4 L446.9,20.5 L447.6,20.7 L448.4,20.8 L449.1,20.9 L449.9,21.1 L450.6,21.2 L451.4,21.4 L452.1,21.6 L452.9,21.8 L453.6,22.1 L454.4,22.4 L455.1,22.7 L455.9,23.0 L456.6,23.4 L457.4,23.8 L458.1,24.2 L458.9,24.7 L459.6,25.2 L460.4,25.8 L461.1,26.4 L461.9,27.1 L462.6,27.8 L463.4,28.6 L464.1,29.5 L464.9,30.5 L465.6,31.5 L466.4,32.6 L467.1,33.8 L467.9,35.1 L468.6,36.4 L469.4,37.7 L470.1,39.1 L470.9,40.6 L471.6,42.1 L472.4,43.6 L473.1,45.2 L473.9,46.8 L474.6,48.4 L475.4,50.1 L476.1,51.7 L476.9,53.3 L477.6,54.9 L478.4,56.4 L479.1,58.0 L479.9,59.6 L480.6,61.1 L481.4,62.7 L482.1,64.2 L482.9,65.8 L483.6,67.4 L484.4,69.0 L485.1,70.6 L485.9,72.3 L486.6,74.0 L487.4,75.8 L488.1,77.5 L488.9,79.3 L489.6,81.0 L490.4,82.7 L491.1,84.4 L491.9,86.1 L492.6,87.8 L493.4,89.5 L494.1,91.2 L494.9,92.9 L495.6,94.5 L496.4,96.2 L497.1,97.7 L497.9,99.2 L498.6,100.5 L499.4,101.8 L500.1,102.9 L500.9,103.9 L501.6,104.8 L502.4,105.6 L503.1,106.4 L503.9,107.1 L504.6,107.7 L505.4,108.3 L506.1,108.8 L506.9,109.2 L507.6,109.6 L508.4,110.0 L509.1,110.3 L509.9,110.6 L510.6,110.8 L511.4,111.1 L512.1,111.3 L512.9,111.5 L513.6,111.6 L514.4,111.8 L515.1,111.9 L515.9,112.1 L516.6,112.2 L517.4,112.3 L518.1,112.5 L518.9,112.6 L519.6,112.7 L520.4,112.7 L521.1,112.8 L521.9,112.9 L522.6,112.9 L523.4,113.0 L524.1,113.0 L524.9,113.1 L525.6,113.1 L526.4,113.1 L527.1,113.2 L527.9,113.2 L528.6,113.2 L529.4,113.3 L530.1,113.3 L530.9,113.3 L531.6,113.3 L532.4,113.3 L533.1,113.3 L533.9,113.3 L534.6,113.4 L636.0,113.3" stroke="#f781bf" stroke-width="1.5" fill="none" stroke-linejoin="round"/>
<path d="M400.4,17.3 L401.1,17.6 L401.9,18.0 L402.6,18.3 L403.4,18.7 L404.1,19.1 L404.9,19.4 L405.6,19.8 L406.4,20.2 L407.1,20.6 L407.9,21.0 L408.6,21.4 L409.4,21.8 L410.1,22.3 L410.9,22.7 L411.6,23.1 L412.4,23.6 L413.1,24.1 L413.9,24.5 L414.6,25.0 L415.4,25.5 L416.1,26.0 L416.9,26.5 L417.6,27.0 L418.4,27.6 L419.1,28.1 L419.9,28.7 L420.6,29.2 L421.4,29.8 L422.1,30.4 L422.9,31.0 L423.6,31.6 L424.4,32.3 L425.1,32.9 L425.9,33.5 L426.6,34.2 L427.4,34.8 L428.1,35.5 L428.9,36.2 L429.6,36.8 L430.4,37.5 L431.1,38.2 L431.9,38.8 L432.6,39.5 L433.4,40.2 L434.1,40.9 L434.9,41.7 L435.6,42.4 L436.4,43.2 L437.1,44.0 L437.9,44.8 L438.6,45.6 L439.4,46.5 L440.1,47.4 L440.9,48.3 L441.6,49.2 L442.4,50.2 L443.1,51.1 L443.9,52.0 L444.6,53.0 L445.4,53.9 L446.1,54.8 L446.9,55.7 L447.6,56.6 L448.4,57.6 L449.1,58.6 L449.9,59.7 L450.6,60.7 L451.4,61.9 L452.1,63.1 L452.9,64.3 L453.6,65.6 L454.4,66.9 L455.1,68.2 L455.9,69.5 L456.6,70.9 L457.4,72.2 L458.1,73.6 L458.9,75.0 L459.6,76.3 L460.4,77.7 L461.1,79.1 L461.9,80.5 L462.6,81.8 L463.4,83.2 L464.1,84.5 L464.9,85.8 L465.6,87.1 L466.4,88.3 L467.1,89.5 L467.9,90.7 L468.6,91.8 L469.4,92.9 L470.1,94.0 L470.9,95.0 L471.6,96.0 L472.4,97.0 L473.1,97.9 L473.9,98.8 L474.6,99.6 L475.4,100.5 L476.1,101.3 L476.9,102.0 L477.6,102.8 L478.4,103.5 L479.1,104.2 L479.9,104.8 L480.6,105.4 L481.4,106.0 L482.1,106.5 L482.9,107.1 L483.6,107.6 L484.4,108.0 L485.1,108.5 L485.9,108.9 L486.6,109.2 L487.4,109.6 L488.1,109.9 L488.9,110.3 L489.6,110.5 L490.4,110.8 L491.1,111.0 L491.9,111.3 L492.6,111.5 L493.4,111.6 L494.1,111.8 L494.9,112.0 L495.6,112.1 L496.4,112.2 L497.1,112.3 L497.9,112.4 L498.6,112.5 L499.4,112.6 L500.1,112.7 L500.9,112.7 L501.6,112.8 L502.4,112.8 L503.1,112.9 L503.9,112.9 L504.6,113.0 L505.4,113.0 L506.1,113.1 L506.9,113.1 L507.6,113.1 L508.4,113.2 L509.1,113.2 L509.9,113.2 L510.6,113.3 L511.4,113.3 L512.1,113.3 L512.9,113.3 L513.6,113.3 L514.4,113.3 L636.0,113.3" stroke="#e41a1c" stroke-width="1.5" fill="none" stroke-linejoin="round"/>
<path d="M400.4,108.9 L401.1,108.8 L401.9,108.7 L402.6,108.5 L403.4,108.4 L404.1,108.3 L404.9,108.1 L405.6,108.0 L406.4,107.8 L407.1,107.7 L407.9,107.5 L408.6,107.4 L409.4,107.2 L410.1,107.0 L410.9,106.8 L411.6,106.6 L412.4,106.4 L413.1,106.2 L413.9,106.0 L414.6,105.8 L415.4,105.5 L416.1,105.3 L416.9,105.1 L417.6,104.8 L418.4,104.5 L419.1,104.3 L419.9,104.0 L420.6,103.7 L421.4,103.4 L422.1,103.1 L422.9,102.8 L423.6,102.5 L424.4,102.1 L425.1,101.8 L425.9,101.4 L426.6,101.1 L427.4,100.7 L428.1,100.3 L428.9,99.9 L429.6,99.5 L430.4,99.1 L431.1,98.7 L431.9,98.3 L432.6,97.8 L433.4,97.4 L434.1,96.9 L434.9,96.4 L435.6,96.0 L436.4,95.5 L437.1,95.1 L437.9,94.6 L438.6,94.2 L439.4,93.7 L440.1,93.2 L440.9,92.8 L441.6,92.3 L442.4,91.9 L443.1,91.4 L443.9,91.0 L444.6,90.5 L445.4,90.0 L446.1,89.6 L446.9,89.1 L447.6,88.6 L448.4,88.2 L449.1,87.7 L449.9,87.2 L450.6,86.8 L451.4,86.3 L452.1,85.8 L452.9,85.3 L453.6,84.9 L454.4,84.4 L455.1,83.9 L455.9,83.5 L456.6,83.0 L457.4,82.6 L458.1,82.1 L458.9,81.7 L459.6,81.3 L460.4,80.8 L461.1,80.4 L461.9,80.0 L462.6,79.6 L463.4,79.1 L464.1,78.7 L464.9,78.3 L465.6,77.9 L466.4,77.5 L467.1,77.0 L467.9,76.6 L468.6,76.2 L469.4,75.8 L470.1,75.4 L470.9,75.0 L471.6,74.5 L472.4,74.1 L473.1,73.7 L473.9,73.3 L474.6,72.9 L475.4,72.5 L476.1,72.1 L476.9,71.6 L477.6,71.2 L478.4,70.8 L479.1,70.4 L479.9,70.0 L480.6,69.6 L481.4,69.2 L482.1,68.8 L482.9,68.4 L483.6,68.0 L484.4,67.6 L485.1,67.2 L485.9,66.8 L486.6,66.5 L487.4,66.1 L488.1,65.7 L488.9,65.4 L489.6,65.0 L490.4,64.7 L491.1,64.4 L491.9,64.1 L492.6,63.8 L493.4,63.5 L494.1,63.2 L494.9,63.0 L495.6,62.7 L496.4,62.5 L497.1,62.3 L497.9,62.1 L498.6,61.9 L499.4,61.7 L500.1,61.5 L500.9,61.4 L501.6,61.2 L502.4,61.1 L503.1,60.9 L503.9,60.8 L504.6,60.7 L505.4,60.6 L506.1,60.5 L506.9,60.4 L507.6,60.3 L508.4,60.3 L509.1,60.2 L509.9,60.1 L510.6,60.1 L511.4,60.0 L512.1,60.0 L512.9,59.9 L513.6,59.9 L514.4,59.9 L515.1,59.8 L515.9,59.8 L516.6,59.8 L517.4,59.7 L518.1,59.7 L518.9,59.7 L519.6,59.7 L520.4,59.7 L521.1,59.7 L521.9,59.6 L522.6,59.6 L523.4,59.6 L524.1,59.6 L524.9,59.6 L525.6,59.6 L526.4,59.6 L527.1,59.6 L527.9,59.6 L528.6,59.6 L529.4,59.6 L530.1,59.6 L530.9,59.6 L531.6,59.6 L532.4,59.6 L533.1,59.6 L533.9,59.6 L534.6,59.6 L535.4,59.6 L536.1,59.6 L536.9,59.6 L537.6,59.6 L538.4,59.6 L539.1,59.6 L539.9,59.6 L540.6,59.6 L541.4,59.6 L542.1,59.6 L542.9,59.6 L543.6,59.6 L544.4,59.6 L545.1,59.6 L545.9,59.6 L546.6,59.6 L547.4,59.6 L548.1,59.6 L548.9,59.6 L549.6,59.6 L550.4,59.6 L551.1,59.6 L551.9,59.6 L552.6,59.6 L553.4,59.6 L554.1,59.6 L554.9,59.6 L555.6,59.6 L556.4,59.6 L557.1,59.6 L557.9,59.6 L558.6,59.6 L559.4,59.6 L560.1,59.6 L560.9,59.6 L561.6,59.6 L562.4,59.6 L563.1,59.6 L563.9,59.6 L564.6,59.6 L565.4,59.6 L566.1,59.6 L566.9,59.6 L567.6,59.6 L568.4,59.6 L569.1,59.6 L569.9,59.6 L570.6,59.6 L571.4,59.6 L572.1,59.6 L572.9,59.6 L573.6,59.6 L574.4,59.6 L575.1,59.6 L575.9,59.6 L576.6,59.6 L577.4,59.6 L578.1,59.6 L578.9,59.6 L579.6,59.6 L580.4,59.6 L581.1,59.6 L581.9,59.6 L582.6,59.6 L583.4,59.6 L584.1,59.6 L584.9,59.6 L585.6,59.6 L586.4,59.6 L587.1,59.6 L587.9,59.6 L588.6,59.6 L589.4,59.6 L590.1,59.6 L590.9,59.6 L591.6,59.6 L592.4,59.6 L593.1,59.6 L593.9,59.6 L594.6,59.6 L595.4,59.6 L596.1,59.6 L596.9,59.6 L597.6,59.6 L598.4,59.6 L599.1,59.6 L599.9,59.6 L600.6,59.6 L601.4,59.6 L602.1,59.6 L602.9,59.6 L603.6,59.6 L604.4,59.6 L605.1,59.6 L605.9,59.6 L606.6,59.6 L607.4,59.6 L608.1,59.6 L608.9,59.6 L609.6,59.6 L610.4,59.6 L611.1,59.6 L611.9,59.6 L612.6,59.6 L613.4,59.6 L614.1,59.6 L614.9,59.6 L615.6,59.6 L616.4,59.6 L617.1,59.6 L617.9,59.6 L618.6,59.6 L619.4,59.6 L620.1,59.6 L620.9,59.6 L621.6,59.6 L622.4,59.6 L623.1,59.6 L623.9,59.6 L624.6,59.6 L625.4,59.6 L626.1,59.6 L626.9,59.6 L627.6,59.6 L628.4,59.6 L629.1,59.6 L629.9,59.6 L630.6,59.6 L631.4,59.6 L632.1,59.6 L632.9,59.6 L633.6,59.6 L634.4,59.6 L635.1,59.6 L635.9,59.6 L636.6,59.6" stroke="#000000" stroke-width="1.5" fill="none" stroke-linejoin="round"/>
<path d="M400.4,59.6 L401.1,59.7 L401.9,59.8 L402.6,59.8 L403.4,59.9 L404.1,60.0 L404.9,60.1 L405.6,60.2 L406.4,60.3 L407.1,60.4 L407.9,60.5 L408.6,60.6 L409.4,60.7 L410.1,60.8 L410.9,60.9 L411.6,61.1 L412.4,61.2 L413.1,61.3 L413.9,61.4 L414.6,61.6 L415.4,61.7 L416.1,61.8 L416.9,62.0 L417.6,62.1 L418.4,62.3 L419.1,62.4 L419.9,62.6 L420.6,62.8 L421.4,62.9 L422.1,63.1 L422.9,63.3 L423.6,63.4 L424.4,63.6 L425.1,63.8 L425.9,64.0 L426.6,64.1 L427.4,64.3 L428.1,64.5 L428.9,64.7 L429.6,64.9 L430.4,65.1 L431.1,65.4 L431.9,65.6 L432.6,65.9 L433.4,66.1 L434.1,66.4 L434.9,66.7 L435.6,67.0 L436.4,67.4 L437.1,67.7 L437.9,68.1 L438.6,68.5 L439.4,68.9 L440.1,69.3 L440.9,69.7 L441.6,70.2 L442.4,70.7 L443.1,71.2 L443.9,71.7 L444.6,72.3 L445.4,72.9 L446.1,73.5 L446.9,74.1 L447.6,74.7 L448.4,75.4 L449.1,76.0 L449.9,76.7 L450.6,77.4 L451.4,78.1 L452.1,78.9 L452.9,79.6 L453.6,80.4 L454.4,81.2 L455.1,82.0 L455.9,82.9 L456.6,83.8 L457.4,84.6 L458.1,85.5 L458.9,86.4 L459.6,87.3 L460.4,88.1 L461.1,88.9 L461.9,89.7 L462.6,90.5 L463.4,91.2 L464.1,91.8 L464.9,92.4 L465.6,92.9 L466.4,93.4 L467.1,93.8 L467.9,94.2 L468.6,94.5 L469.4,94.8 L470.1,95.0 L470.9,95.2 L471.6,95.5 L472.4,95.6 L473.1,95.8 L473.9,96.0 L474.6,96.2 L475.4,96.3 L476.1,96.5 L476.9,96.7 L477.6,96.8 L478.4,97.0 L479.1,97.3 L479.9,97.5 L480.6,97.8 L481.4,98.0 L482.1,98.3 L482.9,98.7 L483.6,99.0 L484.4,99.4 L485.1,99.8 L485.9,100.2 L486.6,100.6 L487.4,101.0 L488.1,101.5 L488.9,101.9 L489.6,102.4 L490.4,102.8 L491.1,103.3 L491.9,103.8 L492.6,104.2 L493.4,104.7 L494.1,105.2 L494.9,105.6 L495.6,106.0 L496.4,106.5 L497.1,106.9 L497.9,107.2 L498.6,107.6 L499.4,108.0 L500.1,108.3 L500.9,108.7 L501.6,109.0 L502.4,109.3 L503.1,109.6 L503.9,109.8 L504.6,110.1 L505.4,110.3 L506.1,110.5 L506.9,110.7 L507.6,110.9 L508.4,111.1 L509.1,111.3 L509.9,111.4 L510.6,111.6 L511.4,111.7 L512.1,111.9 L512.9,112.0 L513.6,112.1 L514.4,112.2 L515.1,112.4 L515.9,112.5 L516.6,112.6 L517.4,112.7 L518.1,112.8 L518.9,112.8 L519.6,112.9 L520.4,113.0 L521.1,113.0 L521.9,113.0 L522.6,113.1 L523.4,113.1 L524.1,113.1 L524.9,113.2 L525.6,113.2 L526.4,113.2 L527.1,113.2 L527.9,113.3 L528.6,113.3 L529.4,113.3 L530.1,113.3 L530.9,113.3 L531.6,113.3 L532.4,113.3 L533.1,113.3 L533.9,113.3 L534.6,113.4 L636.0,113.3" stroke="#999999" stroke-width="1.5" fill="none" stroke-linejoin="round"/>
</g>
<rect x="388.5" y="3.5" width="260.0" height="109.85" fill="none" stroke="#000" stroke-width="0.85"/>
<line x1="400.30" y1="113.35" x2="400.30" y2="116.14999999999999" stroke="#000" stroke-width="0.8"/>
<text x="400.30" y="125.94999999999999" text-anchor="middle" font-size="9.0">0</text>
<line x1="431.72" y1="113.35" x2="431.72" y2="116.14999999999999" stroke="#000" stroke-width="0.8"/>
<text x="431.72" y="125.94999999999999" text-anchor="middle" font-size="9.0">20</text>
<line x1="463.14" y1="113.35" x2="463.14" y2="116.14999999999999" stroke="#000" stroke-width="0.8"/>
<text x="463.14" y="125.94999999999999" text-anchor="middle" font-size="9.0">40</text>
<line x1="494.56" y1="113.35" x2="494.56" y2="116.14999999999999" stroke="#000" stroke-width="0.8"/>
<text x="494.56" y="125.94999999999999" text-anchor="middle" font-size="9.0">60</text>
<line x1="525.98" y1="113.35" x2="525.98" y2="116.14999999999999" stroke="#000" stroke-width="0.8"/>
<text x="525.98" y="125.94999999999999" text-anchor="middle" font-size="9.0">80</text>
<line x1="557.40" y1="113.35" x2="557.40" y2="116.14999999999999" stroke="#000" stroke-width="0.8"/>
<text x="557.40" y="125.94999999999999" text-anchor="middle" font-size="9.0">100</text>
<line x1="588.82" y1="113.35" x2="588.82" y2="116.14999999999999" stroke="#000" stroke-width="0.8"/>
<text x="588.82" y="125.94999999999999" text-anchor="middle" font-size="9.0">120</text>
<line x1="620.24" y1="113.35" x2="620.24" y2="116.14999999999999" stroke="#000" stroke-width="0.8"/>
<text x="620.24" y="125.94999999999999" text-anchor="middle" font-size="9.0">140</text>
<line x1="385.7" y1="113.35" x2="388.5" y2="113.35" stroke="#000" stroke-width="0.8"/>
<text x="382.9" y="116.95" text-anchor="end" font-size="9.0" letter-spacing="0.25">0</text>
<line x1="385.7" y1="85.89" x2="388.5" y2="85.89" stroke="#000" stroke-width="0.8"/>
<text x="382.9" y="89.49" text-anchor="end" font-size="9.0" letter-spacing="0.25">2</text>
<line x1="385.7" y1="58.42" x2="388.5" y2="58.42" stroke="#000" stroke-width="0.8"/>
<text x="382.9" y="62.02" text-anchor="end" font-size="9.0" letter-spacing="0.25">4</text>
<line x1="385.7" y1="30.96" x2="388.5" y2="30.96" stroke="#000" stroke-width="0.8"/>
<text x="382.9" y="34.56" text-anchor="end" font-size="9.0" letter-spacing="0.25">6</text>
<line x1="385.7" y1="3.50" x2="388.5" y2="3.50" stroke="#000" stroke-width="0.8"/>
<text x="382.9" y="7.10" text-anchor="end" font-size="9.0" letter-spacing="0.25">8</text>
<line x1="648.5" y1="113.35" x2="651.3" y2="113.35" stroke="#000" stroke-width="0.8"/>
<text x="653.9" y="117.05" text-anchor="start" font-size="9.0" letter-spacing="0.25">0.0</text>
<line x1="648.5" y1="91.38" x2="651.3" y2="91.38" stroke="#000" stroke-width="0.8"/>
<text x="653.9" y="95.08" text-anchor="start" font-size="9.0" letter-spacing="0.25">0.5</text>
<line x1="648.5" y1="69.41" x2="651.3" y2="69.41" stroke="#000" stroke-width="0.8"/>
<text x="653.9" y="73.11" text-anchor="start" font-size="9.0" letter-spacing="0.25">1.0</text>
<line x1="648.5" y1="47.44" x2="651.3" y2="47.44" stroke="#000" stroke-width="0.8"/>
<text x="653.9" y="51.14" text-anchor="start" font-size="9.0" letter-spacing="0.25">1.5</text>
<line x1="648.5" y1="25.47" x2="651.3" y2="25.47" stroke="#000" stroke-width="0.8"/>
<text x="653.9" y="29.17" text-anchor="start" font-size="9.0" letter-spacing="0.25">2.0</text>
<line x1="648.5" y1="3.50" x2="651.3" y2="3.50" stroke="#000" stroke-width="0.8"/>
<text x="653.9" y="7.20" text-anchor="start" font-size="9.0" letter-spacing="0.25">2.5</text>
<clipPath id="cb2"><rect x="388.5" y="149.9" width="260.0" height="109.35"/></clipPath>
<g clip-path="url(#cb2)">
<path d="M400.4,179.2 L401.1,179.3 L401.9,179.5 L402.6,179.6 L403.4,179.8 L404.1,179.9 L404.9,180.1 L405.6,180.3 L406.4,180.5 L407.1,180.7 L407.9,180.9 L408.6,181.1 L409.4,181.3 L410.1,181.5 L410.9,181.7 L411.6,181.9 L412.4,182.2 L413.1,182.4 L413.9,182.7 L414.6,182.9 L415.4,183.2 L416.1,183.5 L416.9,183.7 L417.6,184.0 L418.4,184.3 L419.1,184.6 L419.9,185.0 L420.6,185.3 L421.4,185.6 L422.1,186.0 L422.9,186.3 L423.6,186.7 L424.4,187.1 L425.1,187.5 L425.9,187.9 L426.6,188.3 L427.4,188.7 L428.1,189.2 L428.9,189.6 L429.6,190.1 L430.4,190.6 L431.1,191.1 L431.9,191.7 L432.6,192.3 L433.4,192.9 L434.1,193.5 L434.9,194.2 L435.6,194.9 L436.4,195.7 L437.1,196.4 L437.9,197.3 L438.6,198.2 L439.4,199.1 L440.1,200.1 L440.9,201.2 L441.6,202.4 L442.4,203.6 L443.1,204.8 L443.9,206.1 L444.6,207.5 L445.4,208.9 L446.1,210.3 L446.9,211.7 L447.6,213.2 L448.4,214.7 L449.1,216.3 L449.9,217.8 L450.6,219.5 L451.4,221.1 L452.1,222.9 L452.9,224.7 L453.6,226.5 L454.4,228.4 L455.1,230.3 L455.9,232.3 L456.6,234.2 L457.4,236.2 L458.1,238.1 L458.9,240.0 L459.6,241.8 L460.4,243.4 L461.1,245.0 L461.9,246.5 L462.6,247.8 L463.4,249.1 L464.1,250.2 L464.9,251.3 L465.6,252.2 L466.4,253.1 L467.1,253.9 L467.9,254.6 L468.6,255.2 L469.4,255.7 L470.1,256.2 L470.9,256.7 L471.6,257.1 L472.4,257.4 L473.1,257.7 L473.9,257.9 L474.6,258.2 L475.4,258.4 L476.1,258.5 L476.9,258.6 L477.6,258.7 L478.4,258.8 L479.1,258.9 L479.9,259.0 L480.6,259.0 L481.4,259.0 L482.1,259.1 L482.9,259.1 L483.6,259.1 L484.4,259.2 L485.1,259.2 L485.9,259.2 L486.6,259.2 L487.4,259.2 L488.1,259.2 L488.9,259.2 L489.6,259.3 L636.0,259.2" stroke="#377eb8" stroke-width="1.5" fill="none" stroke-linejoin="round"/>
<path d="M400.4,259.25 L635.95,259.25" stroke="#008000" stroke-width="1.5" fill="none"/>
<path d="M400.4,258.5 L401.1,258.5 L401.9,258.5 L402.6,258.5 L403.4,258.5 L404.1,258.4 L404.9,258.4 L405.6,258.4 L406.4,258.4 L407.1,258.4 L407.9,258.4 L408.6,258.4 L409.4,258.3 L410.1,258.3 L410.9,258.3 L411.6,258.3 L412.4,258.3 L413.1,258.3 L413.9,258.2 L414.6,258.2 L415.4,258.2 L416.1,258.2 L416.9,258.2 L417.6,258.1 L418.4,258.1 L419.1,258.1 L419.9,258.1 L420.6,258.1 L421.4,258.0 L422.1,258.0 L422.9,258.0 L423.6,258.0 L424.4,258.0 L425.1,257.9 L425.9,257.9 L426.6,257.9 L427.4,257.9 L428.1,257.8 L428.9,257.8 L429.6,257.8 L430.4,257.7 L431.1,257.7 L431.9,257.7 L432.6,257.6 L433.4,257.6 L434.1,257.6 L434.9,257.5 L435.6,257.5 L436.4,257.4 L437.1,257.4 L437.9,257.3 L438.6,257.2 L439.4,257.2 L440.1,257.1 L440.9,257.0 L441.6,256.9 L442.4,256.8 L443.1,256.7 L443.9,256.6 L444.6,256.4 L445.4,256.3 L446.1,256.0 L446.9,255.8 L447.6,255.5 L448.4,255.2 L449.1,254.8 L449.9,254.5 L450.6,254.0 L451.4,253.6 L452.1,253.1 L452.9,252.5 L453.6,251.9 L454.4,251.3 L455.1,250.6 L455.9,249.9 L456.6,249.1 L457.4,248.2 L458.1,247.3 L458.9,246.4 L459.6,245.4 L460.4,244.4 L461.1,243.3 L461.9,242.2 L462.6,241.1 L463.4,240.0 L464.1,238.9 L464.9,237.8 L465.6,236.8 L466.4,235.7 L467.1,234.8 L467.9,233.8 L468.6,232.9 L469.4,232.1 L470.1,231.3 L470.9,230.6 L471.6,230.0 L472.4,229.4 L473.1,228.9 L473.9,228.5 L474.6,228.2 L475.4,227.9 L476.1,227.7 L476.9,227.5 L477.6,227.5 L478.4,227.4 L479.1,227.4 L479.9,227.5 L480.6,227.6 L481.4,227.8 L482.1,228.0 L482.9,228.3 L483.6,228.6 L484.4,229.0 L485.1,229.4 L485.9,229.9 L486.6,230.4 L487.4,231.0 L488.1,231.6 L488.9,232.2 L489.6,232.9 L490.4,233.6 L491.1,234.4 L491.9,235.2 L492.6,236.0 L493.4,236.8 L494.1,237.6 L494.9,238.5 L495.6,239.4 L496.4,240.3 L497.1,241.2 L497.9,242.1 L498.6,243.0 L499.4,243.9 L500.1,244.8 L500.9,245.7 L501.6,246.6 L502.4,247.4 L503.1,248.3 L503.9,249.1 L504.6,249.9 L505.4,250.7 L506.1,251.4 L506.9,252.1 L507.6,252.7 L508.4,253.3 L509.1,253.9 L509.9,254.5 L510.6,255.0 L511.4,255.4 L512.1,255.9 L512.9,256.2 L513.6,256.6 L514.4,256.9 L515.1,257.2 L515.9,257.4 L516.6,257.7 L517.4,257.9 L518.1,258.1 L518.9,258.2 L519.6,258.4 L520.4,258.5 L521.1,258.6 L521.9,258.7 L522.6,258.8 L523.4,258.8 L524.1,258.9 L524.9,259.0 L525.6,259.0 L526.4,259.0 L527.1,259.1 L527.9,259.1 L528.6,259.1 L529.4,259.2 L530.1,259.2 L530.9,259.2 L531.6,259.2 L532.4,259.2 L533.1,259.2 L533.9,259.2 L534.6,259.3 L636.0,259.2" stroke="#f781bf" stroke-width="1.5" fill="none" stroke-linejoin="round"/>
<path d="M400.4,219.0 L401.1,219.0 L401.9,219.0 L402.6,219.1 L403.4,219.1 L404.1,219.1 L404.9,219.2 L405.6,219.2 L406.4,219.2 L407.1,219.3 L407.9,219.3 L408.6,219.3 L409.4,219.4 L410.1,219.4 L410.9,219.5 L411.6,219.5 L412.4,219.6 L413.1,219.6 L413.9,219.7 L414.6,219.7 L415.4,219.8 L416.1,219.8 L416.9,219.9 L417.6,219.9 L418.4,220.0 L419.1,220.1 L419.9,220.1 L420.6,220.2 L421.4,220.3 L422.1,220.4 L422.9,220.4 L423.6,220.5 L424.4,220.6 L425.1,220.7 L425.9,220.7 L426.6,220.8 L427.4,220.9 L428.1,221.0 L428.9,221.1 L429.6,221.2 L430.4,221.3 L431.1,221.4 L431.9,221.5 L432.6,221.6 L433.4,221.7 L434.1,221.8 L434.9,222.0 L435.6,222.1 L436.4,222.3 L437.1,222.4 L437.9,222.6 L438.6,222.7 L439.4,222.9 L440.1,223.1 L440.9,223.2 L441.6,223.4 L442.4,223.5 L443.1,223.7 L443.9,223.8 L444.6,224.0 L445.4,224.1 L446.1,224.3 L446.9,224.5 L447.6,224.7 L448.4,224.9 L449.1,225.2 L449.9,225.5 L450.6,225.8 L451.4,226.1 L452.1,226.5 L452.9,226.8 L453.6,227.2 L454.4,227.6 L455.1,228.0 L455.9,228.4 L456.6,228.8 L457.4,229.2 L458.1,229.7 L458.9,230.1 L459.6,230.6 L460.4,231.1 L461.1,231.5 L461.9,232.0 L462.6,232.6 L463.4,233.1 L464.1,233.6 L464.9,234.1 L465.6,234.7 L466.4,235.3 L467.1,235.8 L467.9,236.4 L468.6,237.0 L469.4,237.6 L470.1,238.2 L470.9,238.8 L471.6,239.4 L472.4,240.1 L473.1,240.7 L473.9,241.4 L474.6,242.0 L475.4,242.7 L476.1,243.4 L476.9,244.1 L477.6,244.8 L478.4,245.6 L479.1,246.3 L479.9,247.0 L480.6,247.7 L481.4,248.4 L482.1,249.0 L482.9,249.7 L483.6,250.3 L484.4,250.9 L485.1,251.5 L485.9,252.0 L486.6,252.5 L487.4,253.1 L488.1,253.5 L488.9,254.0 L489.6,254.4 L490.4,254.8 L491.1,255.1 L491.9,255.5 L492.6,255.8 L493.4,256.1 L494.1,256.4 L494.9,256.6 L495.6,256.9 L496.4,257.1 L497.1,257.3 L497.9,257.5 L498.6,257.7 L499.4,257.8 L500.1,258.0 L500.9,258.1 L501.6,258.3 L502.4,258.4 L503.1,258.5 L503.9,258.6 L504.6,258.7 L505.4,258.8 L506.1,258.9 L506.9,258.9 L507.6,259.0 L508.4,259.0 L509.1,259.1 L509.9,259.1 L510.6,259.1 L511.4,259.2 L512.1,259.2 L512.9,259.2 L513.6,259.2 L514.4,259.2 L636.0,259.2" stroke="#e41a1c" stroke-width="1.5" fill="none" stroke-linejoin="round"/>
<path d="M400.4,192.1 L401.1,192.2 L401.9,192.3 L402.6,192.3 L403.4,192.4 L404.1,192.5 L404.9,192.6 L405.6,192.7 L406.4,192.8 L407.1,193.0 L407.9,193.1 L408.6,193.2 L409.4,193.3 L410.1,193.4 L410.9,193.6 L411.6,193.7 L412.4,193.9 L413.1,194.0 L413.9,194.2 L414.6,194.3 L415.4,194.5 L416.1,194.7 L416.9,194.8 L417.6,195.0 L418.4,195.2 L419.1,195.4 L419.9,195.6 L420.6,195.8 L421.4,196.0 L422.1,196.2 L422.9,196.5 L423.6,196.7 L424.4,196.9 L425.1,197.2 L425.9,197.4 L426.6,197.7 L427.4,198.0 L428.1,198.3 L428.9,198.6 L429.6,198.9 L430.4,199.2 L431.1,199.5 L431.9,199.8 L432.6,200.2 L433.4,200.5 L434.1,200.9 L434.9,201.2 L435.6,201.6 L436.4,202.0 L437.1,202.4 L437.9,202.8 L438.6,203.2 L439.4,203.6 L440.1,204.1 L440.9,204.6 L441.6,205.1 L442.4,205.6 L443.1,206.1 L443.9,206.7 L444.6,207.3 L445.4,208.0 L446.1,208.7 L446.9,209.4 L447.6,210.2 L448.4,211.0 L449.1,211.9 L449.9,212.9 L450.6,213.8 L451.4,214.9 L452.1,215.9 L452.9,217.0 L453.6,218.1 L454.4,219.2 L455.1,220.3 L455.9,221.3 L456.6,222.4 L457.4,223.5 L458.1,224.5 L458.9,225.6 L459.6,226.5 L460.4,227.5 L461.1,228.4 L461.9,229.3 L462.6,230.1 L463.4,230.9 L464.1,231.6 L464.9,232.4 L465.6,233.0 L466.4,233.7 L467.1,234.3 L467.9,234.8 L468.6,235.3 L469.4,235.8 L470.1,236.2 L470.9,236.6 L471.6,236.9 L472.4,237.2 L473.1,237.5 L473.9,237.7 L474.6,237.9 L475.4,238.2 L476.1,238.4 L476.9,238.6 L477.6,238.8 L478.4,239.1 L479.1,239.3 L479.9,239.6 L480.6,239.8 L481.4,240.1 L482.1,240.3 L482.9,240.6 L483.6,240.9 L484.4,241.2 L485.1,241.5 L485.9,241.8 L486.6,242.2 L487.4,242.5 L488.1,242.9 L488.9,243.3 L489.6,243.6 L490.4,244.0 L491.1,244.5 L491.9,244.9 L492.6,245.3 L493.4,245.7 L494.1,246.2 L494.9,246.7 L495.6,247.1 L496.4,247.6 L497.1,248.1 L497.9,248.6 L498.6,249.0 L499.4,249.5 L500.1,250.0 L500.9,250.5 L501.6,250.9 L502.4,251.4 L503.1,251.8 L503.9,252.3 L504.6,252.7 L505.4,253.1 L506.1,253.6 L506.9,253.9 L507.6,254.3 L508.4,254.7 L509.1,255.0 L509.9,255.4 L510.6,255.7 L511.4,256.0 L512.1,256.2 L512.9,256.5 L513.6,256.7 L514.4,257.0 L515.1,257.2 L515.9,257.4 L516.6,257.5 L517.4,257.7 L518.1,257.8 L518.9,257.9 L519.6,258.1 L520.4,258.2 L521.1,258.3 L521.9,258.4 L522.6,258.5 L523.4,258.5 L524.1,258.6 L524.9,258.7 L525.6,258.8 L526.4,258.8 L527.1,258.9 L527.9,259.0 L528.6,259.0 L529.4,259.0 L530.1,259.1 L530.9,259.1 L531.6,259.1 L532.4,259.2 L533.1,259.2 L533.9,259.2 L534.6,259.2 L535.4,259.2 L536.1,259.2 L536.9,259.2 L537.6,259.2 L538.4,259.2 L539.1,259.2 L539.9,259.3 L636.0,259.2" stroke="#000000" stroke-width="1.5" fill="none" stroke-linejoin="round"/>
</g>
<rect x="388.5" y="149.9" width="260.0" height="109.35" fill="none" stroke="#000" stroke-width="0.85"/>
<line x1="400.30" y1="259.25" x2="400.30" y2="262.05" stroke="#000" stroke-width="0.8"/>
<text x="400.30" y="271.85" text-anchor="middle" font-size="9.0">0</text>
<line x1="431.72" y1="259.25" x2="431.72" y2="262.05" stroke="#000" stroke-width="0.8"/>
<text x="431.72" y="271.85" text-anchor="middle" font-size="9.0">20</text>
<line x1="463.14" y1="259.25" x2="463.14" y2="262.05" stroke="#000" stroke-width="0.8"/>
<text x="463.14" y="271.85" text-anchor="middle" font-size="9.0">40</text>
<line x1="494.56" y1="259.25" x2="494.56" y2="262.05" stroke="#000" stroke-width="0.8"/>
<text x="494.56" y="271.85" text-anchor="middle" font-size="9.0">60</text>
<line x1="525.98" y1="259.25" x2="525.98" y2="262.05" stroke="#000" stroke-width="0.8"/>
<text x="525.98" y="271.85" text-anchor="middle" font-size="9.0">80</text>
<line x1="557.40" y1="259.25" x2="557.40" y2="262.05" stroke="#000" stroke-width="0.8"/>
<text x="557.40" y="271.85" text-anchor="middle" font-size="9.0">100</text>
<line x1="588.82" y1="259.25" x2="588.82" y2="262.05" stroke="#000" stroke-width="0.8"/>
<text x="588.82" y="271.85" text-anchor="middle" font-size="9.0">120</text>
<line x1="620.24" y1="259.25" x2="620.24" y2="262.05" stroke="#000" stroke-width="0.8"/>
<text x="620.24" y="271.85" text-anchor="middle" font-size="9.0">140</text>
<line x1="385.7" y1="259.25" x2="388.5" y2="259.25" stroke="#000" stroke-width="0.8"/>
<text x="382.9" y="262.85" text-anchor="end" font-size="9.0" letter-spacing="0.25">0.0</text>
<line x1="385.7" y1="237.38" x2="388.5" y2="237.38" stroke="#000" stroke-width="0.8"/>
<text x="382.9" y="240.98" text-anchor="end" font-size="9.0" letter-spacing="0.25">0.2</text>
<line x1="385.7" y1="215.51" x2="388.5" y2="215.51" stroke="#000" stroke-width="0.8"/>
<text x="382.9" y="219.11" text-anchor="end" font-size="9.0" letter-spacing="0.25">0.4</text>
<line x1="385.7" y1="193.64" x2="388.5" y2="193.64" stroke="#000" stroke-width="0.8"/>
<text x="382.9" y="197.24" text-anchor="end" font-size="9.0" letter-spacing="0.25">0.6</text>
<line x1="385.7" y1="171.77" x2="388.5" y2="171.77" stroke="#000" stroke-width="0.8"/>
<text x="382.9" y="175.37" text-anchor="end" font-size="9.0" letter-spacing="0.25">0.8</text>
<line x1="385.7" y1="149.90" x2="388.5" y2="149.90" stroke="#000" stroke-width="0.8"/>
<text x="382.9" y="153.50" text-anchor="end" font-size="9.0" letter-spacing="0.25">1.0</text>
<line x1="648.5" y1="259.25" x2="651.3" y2="259.25" stroke="#000" stroke-width="0.8"/>
<text x="653.9" y="262.95" text-anchor="start" font-size="9.0" letter-spacing="0.25">0.00</text>
<line x1="648.5" y1="237.38" x2="651.3" y2="237.38" stroke="#000" stroke-width="0.8"/>
<text x="653.9" y="241.08" text-anchor="start" font-size="9.0" letter-spacing="0.25">0.02</text>
<line x1="648.5" y1="215.51" x2="651.3" y2="215.51" stroke="#000" stroke-width="0.8"/>
<text x="653.9" y="219.21" text-anchor="start" font-size="9.0" letter-spacing="0.25">0.04</text>
<line x1="648.5" y1="193.64" x2="651.3" y2="193.64" stroke="#000" stroke-width="0.8"/>
<text x="653.9" y="197.34" text-anchor="start" font-size="9.0" letter-spacing="0.25">0.06</text>
<line x1="648.5" y1="171.77" x2="651.3" y2="171.77" stroke="#000" stroke-width="0.8"/>
<text x="653.9" y="175.47" text-anchor="start" font-size="9.0" letter-spacing="0.25">0.08</text>
<line x1="648.5" y1="149.90" x2="651.3" y2="149.90" stroke="#000" stroke-width="0.8"/>
<text x="653.9" y="153.60" text-anchor="start" font-size="9.0" letter-spacing="0.25">0.10</text>
<rect x="603.9" y="13.2" width="40" height="61.0" rx="1.6" fill="#fff" fill-opacity="0.8" stroke="#ccc" stroke-width="0.8"/>
<line x1="606.6" y1="19.70" x2="624.1999999999999" y2="19.70" stroke="#377eb8" stroke-width="1.4"/>
<text x="629.1" y="22.70" font-size="9.0"><tspan font-style="italic">S</tspan><tspan font-size="6.6" dy="1.7">1</tspan></text>
<line x1="606.6" y1="31.30" x2="624.1999999999999" y2="31.30" stroke="#f781bf" stroke-width="1.4"/>
<text x="629.1" y="34.30" font-size="9.0"><tspan font-style="italic">S</tspan><tspan font-size="6.6" dy="1.7">3</tspan></text>
<line x1="606.6" y1="42.90" x2="624.1999999999999" y2="42.90" stroke="#e41a1c" stroke-width="1.4"/>
<text x="629.1" y="45.90" font-size="9.0"><tspan font-style="italic">S</tspan><tspan font-size="6.6" dy="1.7">4</tspan></text>
<line x1="606.6" y1="54.50" x2="624.1999999999999" y2="54.50" stroke="#000000" stroke-width="1.4"/>
<text x="629.1" y="57.50" font-size="9.0"><tspan font-style="italic">V</tspan></text>
<line x1="606.6" y1="66.10" x2="624.1999999999999" y2="66.10" stroke="#999999" stroke-width="1.4"/>
<text x="629.1" y="69.10" font-size="9.0">[E]</text>
<rect x="555.5" y="157.55" width="85.2" height="84.7" rx="2.2" fill="#fff" fill-opacity="0.8" stroke="#d0d0d0" stroke-width="0.8"/>
<g><rect x="563.1" y="167.15" width="22.4" height="18.9" rx="0.7" fill="#377eb8" stroke="#111" stroke-width="0.95"/><text x="575.0" y="180.95000000000002" text-anchor="middle" font-family="Liberation Serif, serif" font-size="14.5" font-style="italic">S<tspan font-size="9.2" dy="1.6" font-style="normal">1</tspan></text></g>
<g opacity="0.24"><rect x="612.8" y="167.05" width="22.4" height="18.9" rx="0.7" fill="#008000" stroke="#111" stroke-width="0.95"/><text x="624.6999999999999" y="180.85000000000002" text-anchor="middle" font-family="Liberation Serif, serif" font-size="14.5" font-style="italic">S<tspan font-size="9.2" dy="1.6" font-style="normal">2</tspan></text></g>
<g><rect x="563.1" y="214.65" width="22.4" height="18.9" rx="0.7" fill="#f781bf" stroke="#111" stroke-width="0.95"/><text x="575.0" y="228.45000000000002" text-anchor="middle" font-family="Liberation Serif, serif" font-size="14.5" font-style="italic">S<tspan font-size="9.2" dy="1.6" font-style="normal">3</tspan></text></g>
<g><rect x="612.8" y="214.55" width="22.4" height="18.9" rx="0.7" fill="#e41a1c" stroke="#111" stroke-width="0.95"/><text x="624.6999999999999" y="228.35000000000002" text-anchor="middle" font-family="Liberation Serif, serif" font-size="14.5" font-style="italic">S<tspan font-size="9.2" dy="1.6" font-style="normal">4</tspan></text></g>
<path d="M586.5,176.55 H609.2 M609.2,172.75 V180.35" stroke="#ef4548" stroke-width="1.15" fill="none" opacity="0.25"/>
<path d="M574.3,187.75 V210.25 M570.5,210.25 H578.1" stroke="#e6262b" stroke-width="1.6" fill="none"/>
<path d="M623.9,187.75 V210.25 M620.1,210.25 H627.7" stroke="#ef4548" stroke-width="1.15" fill="none" opacity="0.25"/>
<text x="344.4" y="15.2" font-size="14.8" font-weight="bold" letter-spacing="1.35">(b)</text>
<text transform="translate(373.2,58.5) rotate(-90)" text-anchor="middle" font-size="9.0"><tspan font-style="italic">S</tspan><tspan font-size="6" dy="1.6" font-style="italic">i</tspan><tspan dy="-1.6"> [mM]</tspan></text>
<text transform="translate(365.4,202) rotate(-90)" text-anchor="middle" font-size="8.8">[<tspan font-style="italic">S</tspan><tspan font-size="5.8" dy="1.6" font-style="italic">i</tspan><tspan dy="-1.6">] [µmol h</tspan><tspan font-size="5.4" dy="-3.2">-1</tspan><tspan dy="3.2"> g</tspan><tspan font-size="5.4" dy="-3.2">-1</tspan><tspan dy="3.2">]</tspan></text>
<circle cx="357.6" cy="226.5" r="0.55"/>
<text transform="translate(676.5,58.6) rotate(-90)" text-anchor="middle" font-size="8.6"><tspan font-style="italic">V</tspan><tspan dx="3">[g</tspan><tspan dx="2.4">l</tspan><tspan font-size="5.4" dy="-3.2">-1</tspan><tspan dy="3.2">]</tspan></text>
<text transform="translate(682.5,203.6) rotate(-90)" text-anchor="middle" font-size="8.8">[<tspan font-style="italic">V</tspan>]<tspan dx="3.2">[h</tspan><tspan font-size="5.4" dy="-3.2">-1</tspan><tspan dy="3.2">]</tspan></text>
<circle cx="675.2" cy="209.6" r="0.6"/>
<text x="535.2" y="284.8" text-anchor="middle" font-size="11.3">time <tspan font-style="italic">t</tspan> [h]</text>
</svg>
</body></html>
